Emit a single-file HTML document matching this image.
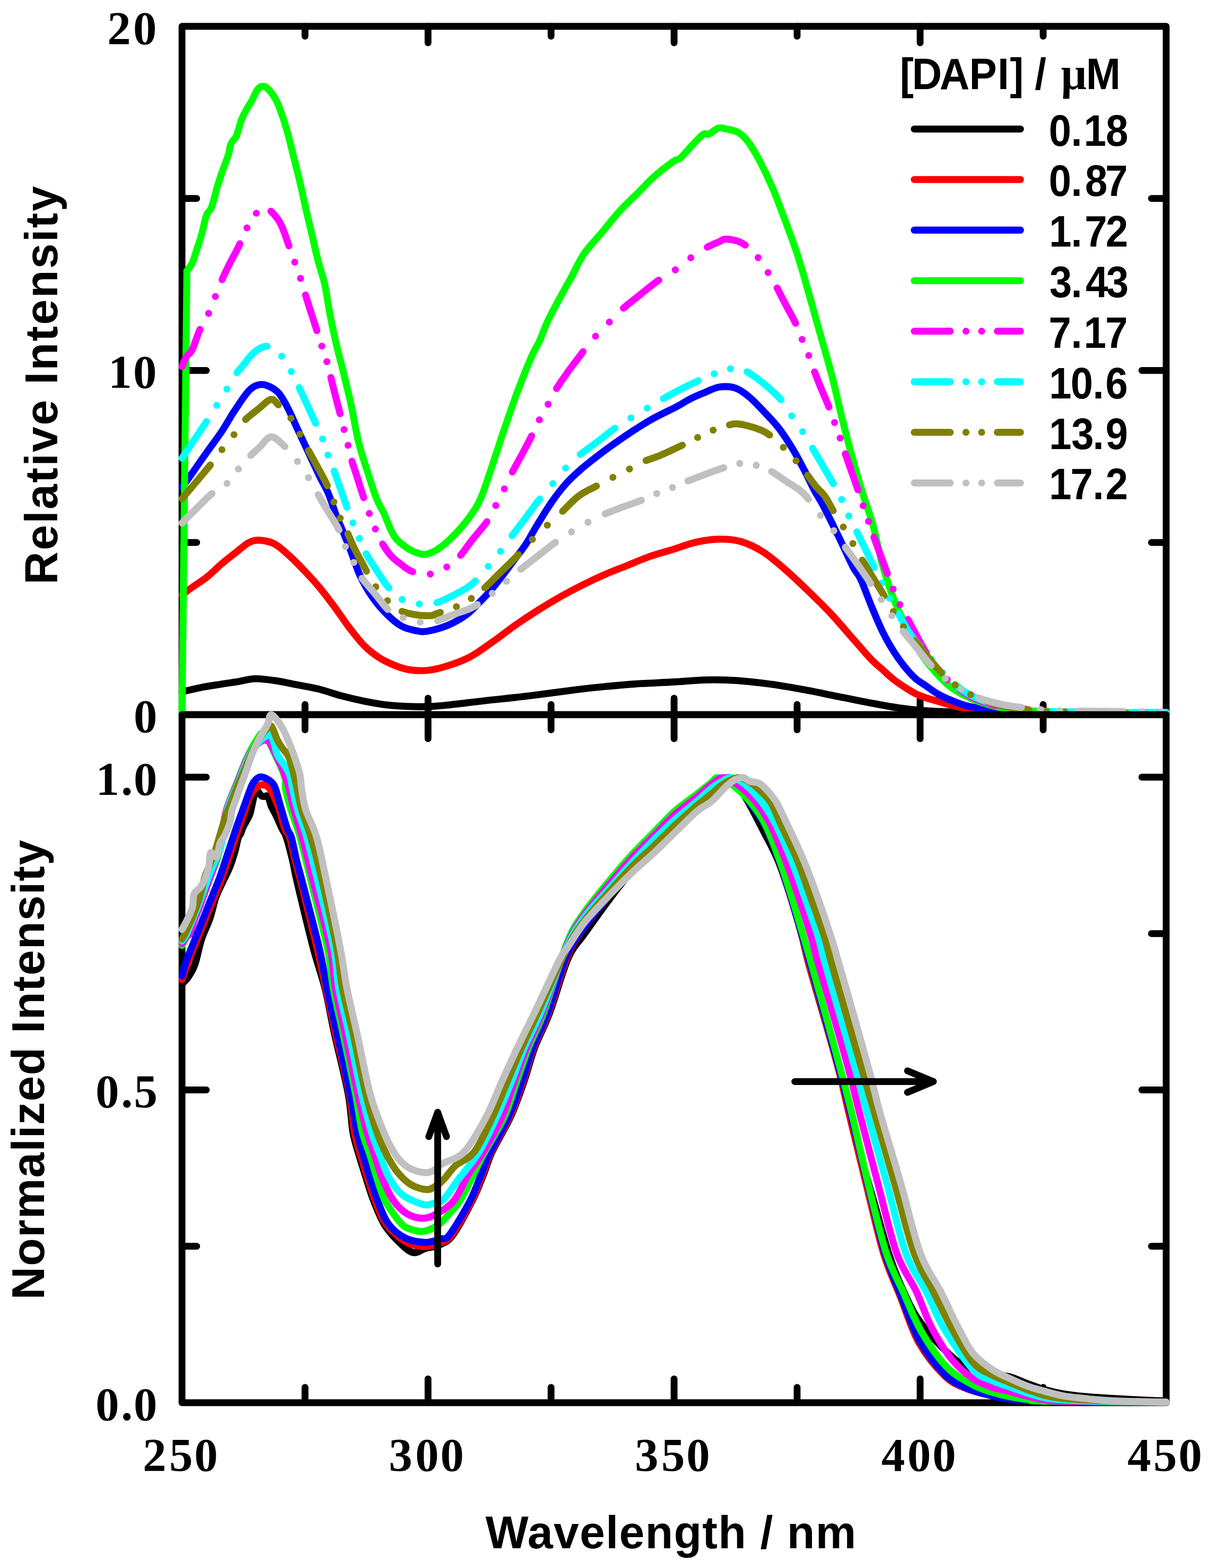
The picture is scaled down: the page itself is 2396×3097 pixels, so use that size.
<!DOCTYPE html>
<html><head><meta charset="utf-8"><title>DAPI fluorescence excitation spectra</title>
<style>html,body{margin:0;padding:0;background:#fff;overflow:hidden;}svg{display:block;}.tl{font-family:"Liberation Serif","Times New Roman",serif;font-weight:bold;font-size:93px;}.ax{font-family:"Liberation Sans",Arial,sans-serif;font-weight:bold;font-size:90px;}.lg{font-family:"Liberation Sans",Arial,sans-serif;font-weight:bold;font-size:86px;}.mu{font-family:"Liberation Serif","Times New Roman",serif;font-weight:bold;}</style></head><body>
<svg xmlns="http://www.w3.org/2000/svg" width="2396" height="3097" viewBox="0 0 2396 3097">
<rect x="0" y="0" width="2396" height="3097" fill="#fff"/>
<path d="M359.5,52 H2303.5 V1411.5 H359.5 Z" fill="none" stroke="#000" stroke-width="13.5" stroke-linejoin="round"/>
<line x1="602.5" y1="52" x2="602.5" y2="71.5" stroke="#000" stroke-width="13.5" stroke-linecap="round"/>
<line x1="845.5" y1="52" x2="845.5" y2="84.5" stroke="#000" stroke-width="13.5" stroke-linecap="round"/>
<line x1="1088.5" y1="52" x2="1088.5" y2="71.5" stroke="#000" stroke-width="13.5" stroke-linecap="round"/>
<line x1="1331.5" y1="52" x2="1331.5" y2="84.5" stroke="#000" stroke-width="13.5" stroke-linecap="round"/>
<line x1="1574.5" y1="52" x2="1574.5" y2="71.5" stroke="#000" stroke-width="13.5" stroke-linecap="round"/>
<line x1="1817.5" y1="52" x2="1817.5" y2="84.5" stroke="#000" stroke-width="13.5" stroke-linecap="round"/>
<line x1="2060.5" y1="52" x2="2060.5" y2="71.5" stroke="#000" stroke-width="13.5" stroke-linecap="round"/>
<line x1="602.5" y1="1411.5" x2="602.5" y2="1391.5" stroke="#000" stroke-width="13.5" stroke-linecap="round"/>
<line x1="845.5" y1="1411.5" x2="845.5" y2="1379" stroke="#000" stroke-width="13.5" stroke-linecap="round"/>
<line x1="1088.5" y1="1411.5" x2="1088.5" y2="1391.5" stroke="#000" stroke-width="13.5" stroke-linecap="round"/>
<line x1="1331.5" y1="1411.5" x2="1331.5" y2="1379" stroke="#000" stroke-width="13.5" stroke-linecap="round"/>
<line x1="1574.5" y1="1411.5" x2="1574.5" y2="1391.5" stroke="#000" stroke-width="13.5" stroke-linecap="round"/>
<line x1="1817.5" y1="1411.5" x2="1817.5" y2="1379" stroke="#000" stroke-width="13.5" stroke-linecap="round"/>
<line x1="2060.5" y1="1411.5" x2="2060.5" y2="1391.5" stroke="#000" stroke-width="13.5" stroke-linecap="round"/>
<line x1="359.5" y1="731.8" x2="407.5" y2="731.8" stroke="#000" stroke-width="13.5" stroke-linecap="round"/>
<line x1="2303.5" y1="731.8" x2="2255.5" y2="731.8" stroke="#000" stroke-width="13.5" stroke-linecap="round"/>
<line x1="359.5" y1="1071.6" x2="388.5" y2="1071.6" stroke="#000" stroke-width="13.5" stroke-linecap="round"/>
<line x1="2303.5" y1="1071.6" x2="2274.5" y2="1071.6" stroke="#000" stroke-width="13.5" stroke-linecap="round"/>
<line x1="359.5" y1="391.9" x2="388.5" y2="391.9" stroke="#000" stroke-width="13.5" stroke-linecap="round"/>
<line x1="2303.5" y1="391.9" x2="2274.5" y2="391.9" stroke="#000" stroke-width="13.5" stroke-linecap="round"/>
<path d="M359.5,1366.5 C365.3,1365.2 381.2,1361 394.4,1358.4 C407.6,1355.8 426.5,1353 438.8,1351 C451.1,1349 457.5,1348.3 468.3,1346.6 C479.1,1344.9 491.5,1341 503.8,1340.6 C516.1,1340.2 528.5,1342.2 542.3,1344.2 C556.1,1346.2 571.9,1349.6 586.7,1352.5 C601.5,1355.4 616.2,1357.7 631,1361.4 C645.8,1365.1 660.6,1370.8 675.4,1374.7 C690.2,1378.6 705,1382 719.8,1385 C734.6,1388 749.4,1390.7 764.2,1392.4 C779,1394.1 795,1394.9 808.6,1395.4 C822.2,1395.9 834.1,1395.9 846,1395.5 C857.9,1395.1 861.3,1394.9 880,1393 C898.7,1391.1 931.3,1387 958,1384 C984.7,1381 1009.7,1378.7 1040,1375 C1070.3,1371.3 1114.2,1365.2 1140,1362 C1165.8,1358.8 1176,1357.8 1195,1356 C1214,1354.2 1231.5,1352.5 1254,1351 C1276.5,1349.5 1307.5,1348.3 1330,1347 C1352.5,1345.7 1371.9,1343.8 1389.2,1343.1 C1406.5,1342.4 1418.8,1342.6 1433.6,1343.1 C1448.4,1343.6 1460.7,1344.4 1477.9,1346.1 C1495.2,1347.8 1517.4,1350.5 1537.1,1353.5 C1556.8,1356.5 1576.6,1360.1 1596.3,1363.8 C1616,1367.5 1635.7,1371.8 1655.4,1375.7 C1675.1,1379.7 1694.9,1383.8 1714.6,1387.5 C1734.3,1391.2 1754.6,1395.2 1773.8,1397.9 C1793,1400.7 1809,1402.5 1830,1404 C1851,1405.5 1871.7,1406.2 1900,1407 C1928.3,1407.8 1932.8,1408.5 2000,1409 C2067.2,1409.5 2252.9,1409.8 2303.5,1410" fill="none" stroke="#000000" stroke-width="13.8" stroke-linecap="round" stroke-linejoin="round"/>
<path d="M359.5,1175 C362.9,1172.5 371.3,1165.9 379.6,1160 C387.9,1154.1 399.3,1147.4 409.2,1139.5 C419.1,1131.6 428.9,1121.2 438.8,1112.8 C448.7,1104.4 459.4,1096.1 468.3,1089.2 C477.2,1082.3 484.6,1075.1 492,1071.4 C499.4,1067.7 504.3,1066.5 512.7,1067 C521.1,1067.5 532.4,1069.2 542.3,1074.4 C552.2,1079.6 562,1089.1 571.9,1098 C581.8,1106.9 591.6,1117.2 601.5,1127.6 C611.4,1138 621.1,1148.4 631,1160.2 C640.9,1172 650.8,1185.3 660.7,1198.6 C670.6,1211.9 680.4,1227.2 690.2,1240 C700.1,1252.8 709.9,1265.7 719.8,1275.6 C729.7,1285.5 739.5,1292.8 749.4,1299.2 C759.3,1305.6 769.1,1310 779,1314 C788.9,1318 797.6,1321.2 808.6,1322.9 C819.6,1324.6 832.4,1325.3 845,1324 C857.6,1322.7 870.4,1319.5 884.4,1315 C898.4,1310.5 914,1305.2 928.8,1297.3 C943.6,1289.4 958.3,1278.1 973.1,1267.7 C987.9,1257.3 1002.7,1245.4 1017.5,1235.1 C1032.3,1224.8 1047.1,1215 1061.9,1205.6 C1076.7,1196.2 1091.5,1187.3 1106.3,1178.9 C1121.1,1170.5 1135.9,1162.7 1150.7,1155.3 C1165.5,1147.9 1180.2,1141 1195,1134.6 C1209.8,1128.2 1224.6,1122.7 1239.4,1116.8 C1254.2,1110.9 1268.7,1104.3 1283.8,1099 C1298.9,1093.7 1314.9,1089.7 1330,1085 C1345.1,1080.3 1359.6,1074.3 1374.4,1071 C1389.2,1067.7 1404,1065.2 1418.8,1065 C1433.6,1064.8 1448.3,1065.3 1463.1,1069.5 C1477.9,1073.7 1492.7,1080.8 1507.5,1090.2 C1522.3,1099.6 1537.1,1112.9 1551.9,1125.7 C1566.7,1138.5 1581.5,1152.8 1596.3,1167.1 C1611.1,1181.4 1625.9,1195.7 1640.7,1211.5 C1655.5,1227.3 1671.5,1246.5 1685,1261.8 C1698.5,1277 1711.8,1292.9 1721.5,1303 C1731.2,1313.1 1735.8,1315.8 1743,1322.3 C1750.2,1328.8 1757.4,1336 1764.6,1341.7 C1771.8,1347.4 1778.8,1352.1 1786,1356.7 C1793.2,1361.3 1800.4,1366 1807.6,1369.6 C1814.8,1373.2 1821.8,1375.7 1829,1378.2 C1836.2,1380.7 1843.4,1382.5 1850.6,1384.7 C1857.8,1386.9 1865.2,1389.3 1872.2,1391.2 C1879.2,1393.1 1883.8,1394.6 1892.3,1396.2 C1900.8,1397.8 1911.7,1399.5 1923,1400.8 C1934.3,1402.1 1947.2,1403.1 1960,1404 C1972.8,1404.9 1976.7,1405.3 2000,1406 C2023.3,1406.7 2049.4,1407.5 2100,1408 C2150.6,1408.5 2269.6,1408.8 2303.5,1409" fill="none" stroke="#ff0000" stroke-width="13.8" stroke-linecap="round" stroke-linejoin="round"/>
<path d="M359.5,962 C361.9,958.8 365.4,954.6 373.7,943 C381.9,931.4 398.1,907.9 409,892.6 C419.9,877.3 429.9,864.3 438.8,851 C447.7,837.7 453.5,826 462.4,812.7 C471.3,799.4 483.4,780.2 492,771.3 C500.6,762.4 507.3,760.7 514.2,759.5 C521.1,758.3 527.2,761 533.4,764 C539.6,767 545.3,770.1 551.2,777.2 C557.1,784.3 563.1,795.4 569,806.8 C574.9,818.1 580.3,831.5 586.7,845.3 C593.1,859.1 600,873.8 607.4,889.6 C614.8,905.4 624.1,925.7 631,940 C637.9,954.3 643.4,962.6 648.8,975.4 C654.2,988.2 659.2,1005.3 663.6,1016.9 C668,1028.5 670.5,1033 675.4,1045 C680.3,1057 687.3,1073.8 693.2,1089 C699.1,1104.2 704.1,1121.7 711,1136.5 C717.9,1151.3 725.7,1165.2 734.6,1178 C743.5,1190.8 754.3,1203.6 764.2,1213.4 C774.1,1223.2 783.9,1231.6 793.8,1237 C803.7,1242.4 814.9,1244.4 823.4,1246 C831.9,1247.6 834.8,1248.3 845,1246.5 C855.2,1244.7 871.7,1240.4 884.4,1235.1 C897.1,1229.8 911,1221.7 921,1214.5 C931,1207.3 936.8,1199.9 944.7,1192 C952.6,1184.1 960.4,1176.3 968.3,1167.2 C976.2,1158.1 984.1,1147.8 992,1137.6 C999.9,1127.4 1007.8,1116.6 1015.7,1106 C1023.6,1095.4 1032,1085 1039.3,1074 C1046.5,1063 1051,1053.5 1059.2,1040 C1067.5,1026.5 1079,1007.2 1088.8,993 C1098.6,978.8 1108.4,966.1 1118.3,955 C1128.2,943.9 1138.1,935.2 1148,926.5 C1157.9,917.8 1167.7,910.4 1177.5,902.8 C1187.3,895.2 1197.2,887.8 1207.1,880.7 C1217,873.6 1228.3,865.7 1236.7,860 C1245.1,854.3 1248.2,852.1 1257.5,846.3 C1266.8,840.5 1279.4,832.4 1292.3,825.4 C1305.2,818.4 1322.9,810.4 1335,804 C1347.1,797.6 1355.2,792 1364.8,787.2 C1374.4,782.4 1383.3,778.8 1392.6,775 C1401.9,771.2 1410.6,766 1420.5,764.5 C1430.4,763 1442,763.1 1451.8,766.3 C1461.6,769.5 1469.8,775.6 1479.6,783.7 C1489.4,791.8 1501,804.6 1510.9,815 C1520.8,825.4 1529.5,834.1 1538.8,846.3 C1548.1,858.5 1558.5,874.8 1566.6,888.1 C1574.7,901.4 1580.5,913 1587.5,926.3 C1594.5,939.6 1602,956.1 1608.4,968.1 C1614.8,980.1 1618.1,983.6 1625.9,998.5 C1633.7,1013.4 1645.6,1037.4 1655.4,1057.6 C1665.2,1077.8 1677.6,1105.4 1685,1119.8 C1692.4,1134.2 1693.9,1130.8 1700,1143.7 C1706.1,1156.7 1714.3,1180.3 1721.5,1197.5 C1728.7,1214.7 1735.8,1232.3 1743,1247 C1750.2,1261.7 1757.4,1274.2 1764.6,1285.7 C1771.8,1297.2 1778.8,1306.8 1786,1315.8 C1793.2,1324.8 1800.4,1333 1807.6,1339.5 C1814.8,1346 1821.8,1349.6 1829,1354.6 C1836.2,1359.6 1843.4,1365.3 1850.6,1369.6 C1857.8,1373.9 1865,1377.2 1872.2,1380.4 C1879.4,1383.6 1886.5,1386.5 1893.7,1389 C1900.9,1391.5 1905.2,1393.5 1915.2,1395.5 C1925.2,1397.5 1939.7,1399.4 1953.8,1401 C1967.9,1402.6 1975.6,1403.8 2000,1405 C2024.4,1406.2 2049.4,1407.3 2100,1408 C2150.6,1408.7 2269.6,1408.8 2303.5,1409" fill="none" stroke="#0000ff" stroke-width="13.8" stroke-linecap="round" stroke-linejoin="round"/>
<path d="M359.5,1411.5 L369.2,535" fill="none" stroke="#00ff00" stroke-width="13.8" stroke-linecap="round"/>
<path d="M369.2,535 C370.9,532.5 376.4,526.9 379.6,520 C382.8,513.1 385.3,503.3 388.5,493.5 C391.7,483.7 395.6,472.4 398.8,461 C402,449.6 404.5,434.1 407.7,425.4 C410.9,416.7 414.3,418.9 418,409 C421.7,399.1 426.5,377.6 430,366 C433.5,354.4 435.4,349.4 438.8,339.6 C442.2,329.8 447.7,316.4 450.6,307 C453.6,297.6 453.8,289.8 456.5,283.4 C459.2,277 463.4,276.5 466.9,268.6 C470.3,260.7 474,244.4 477.2,236 C480.4,227.6 482.5,224.4 486,218 C489.5,211.6 494.5,203.9 498,197.6 C501.5,191.3 503.9,184.4 506.8,180 C509.8,175.6 512.2,172 515.7,171 C519.2,170 522.6,169.6 527.5,174 C532.4,178.4 540.4,188.8 545.3,197.6 C550.2,206.4 553,215.7 557,227 C561,238.3 565,251.4 569,265.7 C573,280 576.9,297.3 580.8,313 C584.7,328.7 588.7,343.2 592.6,360 C596.5,376.8 600.5,396.3 604.4,413.6 C608.3,430.9 612.4,447.3 616.3,464 C620.2,480.7 623.8,497.8 628,514 C632.2,530.2 637.4,543.7 641.4,561.5 C645.4,579.3 648.1,601.5 651.8,620.7 C655.5,640 659.7,659.8 663.6,677 C667.5,694.2 670.5,703.8 675.4,724 C680.3,744.2 687.8,773.4 693.2,798 C698.6,822.6 702.6,849.7 708,871.9 C713.4,894.1 719.8,912.3 725.7,931 C731.6,949.7 738.1,970.5 743.5,984.3 C748.9,998.1 752.4,1001.4 758.3,1013.9 C764.2,1026.5 771.1,1048 779,1059.6 C786.9,1071.2 797.2,1077.6 805.6,1083.3 C814,1089 822.7,1091.8 829.3,1093.6 C835.9,1095.4 838.3,1096 845,1094 C851.7,1092 860.6,1087.8 869.6,1081.3 C878.6,1074.8 889.3,1065 899.2,1054.7 C909.1,1044.4 920.1,1031.7 928.8,1019.2 C937.5,1006.8 942.9,1000.1 951.3,980 C959.7,959.9 971.7,920.8 979.2,898.5 C986.8,876.2 989.6,866.6 996.6,846.3 C1003.6,826 1012.3,799.9 1021,776.7 C1029.7,753.5 1041.3,724.5 1048.8,707.1 C1056.3,689.7 1060.4,685 1066.2,672.3 C1072,659.5 1076.1,646.2 1083.6,630.6 C1091.1,615 1103.9,592.3 1111.4,578.4 C1118.9,564.5 1121.8,559.9 1128.8,547.1 C1135.8,534.3 1143.3,516.3 1153.2,501.8 C1163.1,487.3 1176.4,474 1188,460.1 C1199.6,446.2 1211.1,431.1 1222.7,418.3 C1234.3,405.5 1245.9,395.1 1257.5,383.5 C1269.1,371.9 1280.2,359.4 1292.3,348.7 C1304.4,337.9 1321.4,325.1 1330,319 C1338.6,312.9 1338.1,317.1 1343.9,312.2 C1349.7,307.3 1357.2,297.4 1364.8,289.6 C1372.3,281.8 1383.4,269.3 1389.2,265.2 C1395,261.1 1394.7,267.2 1399.6,265.2 C1404.5,263.2 1412.9,254.8 1418.7,253.1 C1424.5,251.4 1427.7,253.4 1434.4,254.8 C1441.1,256.2 1451.2,257.2 1458.7,261.8 C1466.2,266.4 1472,272.2 1479.6,282.6 C1487.1,293 1495.9,308.7 1504,324.4 C1512.1,340.1 1521.3,360.4 1528.3,376.6 C1535.2,392.8 1538.2,401.5 1545.7,421.8 C1553.2,442.1 1565.5,474 1573.6,498.4 C1581.7,522.8 1586.9,541.9 1594.4,568 C1601.9,594.1 1610.7,626 1618.8,655 C1626.9,684 1635.7,713 1643.2,742 C1650.7,771 1657,801.1 1664,828.9 C1671,856.7 1677.9,883.7 1684.9,908.9 C1691.9,934.1 1699.4,959.1 1705.8,980 C1712.2,1000.9 1717.3,1011.5 1723.5,1034 C1729.7,1056.5 1736.4,1091.2 1743,1115 C1749.6,1138.8 1755.8,1157.9 1763,1177 C1770.2,1196.1 1778.6,1213.8 1786,1229.8 C1793.4,1245.8 1800.4,1260.3 1807.6,1272.8 C1814.8,1285.3 1821.8,1295.3 1829,1305 C1836.2,1314.7 1843.4,1323 1850.6,1330.9 C1857.8,1338.8 1865,1346.3 1872.2,1352.4 C1879.4,1358.5 1886.5,1363.2 1893.7,1367.5 C1900.9,1371.8 1908,1375 1915.2,1378.2 C1922.4,1381.4 1927.7,1383.8 1936.7,1386.8 C1945.7,1389.8 1958.5,1393.9 1969,1396.2 C1979.5,1398.5 1986.5,1399.3 2000,1400.8 C2013.5,1402.3 2033.3,1404 2050,1405 C2066.7,1406 2075,1406.5 2100,1407 C2125,1407.5 2166.1,1407.8 2200,1408 C2233.9,1408.2 2286.2,1408 2303.5,1408" fill="none" stroke="#00ff00" stroke-width="13.8" stroke-linecap="round" stroke-linejoin="round"/>
<path d="M359.5,724 L359.7,723.6 L359.9,723.1 L360.1,722.5 L360.4,721.9 L360.7,721.2 L360.9,720.5 L361.3,719.7 L361.6,718.9 L361.9,718.1 L362.3,717.2 L362.6,716.3 L363,715.4 L363.4,714.5 L363.8,713.6 L364.2,712.7 L364.6,711.7 L365,710.8 L365.4,709.9 L365.9,709 L366.3,708.2 L366.7,707.3 L367.1,706.5 L367.6,705.7 L368,705 L368.4,704.3 L368.9,703.7 L369.3,703.1 L369.8,702.5 L370.2,702 L370.7,701.5 L371.2,701 L371.7,700.5 L372.2,700 L372.7,699.6 L373.2,699.1 L373.7,698.6 L374.2,698.1 L374.7,697.6 L375.2,697.1 L375.7,696.5 L376.2,695.9 L376.8,695.2 L377.3,694.5 L377.8,693.7 L378.4,692.9 L378.9,692 L379.5,691 L380,690 L380.5,688.9 L381.1,687.7 L381.6,686.4 L382.2,685 L382.7,683.6 L383.3,682.2 L383.9,680.6 L384.4,679.1 L385,677.5 L385.6,675.8 L386.1,674.2 L386.7,672.5 L387.3,670.8 L387.9,669.1 L388.5,667.4 L389.1,665.7 L389.7,664 L390.3,662.3 L390.9,660.7 L391.5,659.1 L392.1,657.5 L392.7,655.9 L393.4,654.4 L394,653 L394.6,651.6 L395.1,650.6 M412,619 h0.01 M425.4,585.7 h0.01 M438.6,552.3 L439.1,551.2 L439.7,549.7 L440.4,548.2 L441.1,546.6 L441.9,545.1 L442.6,543.5 L443.3,542 L444.1,540.4 L444.8,538.9 L445.5,537.3 L446.3,535.7 L447,534.2 L447.8,532.6 L448.5,531.1 L449.3,529.6 L450,528 L450.8,526.5 L451.5,525 L452.3,523.5 L453,522 L453.7,520.5 L454.5,519 L455.2,517.6 L456,516.1 L456.8,514.6 L457.6,513.1 L458.4,511.7 L459.1,510.2 L459.9,508.7 L460.7,507.3 L461.5,505.8 L462.3,504.4 L463.1,502.9 L463.8,501.5 L464.6,500.1 L465.4,498.6 L466.1,497.2 L466.9,495.8 L467.6,494.4 L468.3,493 L469,491.7 L469.7,490.3 L470.4,488.9 L471,487.6 L471.6,486.3 L472.2,485 L472.8,483.7 L473.4,482.4 L473.7,481.5 M487.8,450.1 h0.01 M506.3,421.1 h0.01 M535,417.1 L535.2,417.3 L536,418.1 L536.8,418.9 L537.6,419.7 L538.4,420.5 L539.2,421.4 L540,422.2 L540.8,423.1 L541.5,423.9 L542.3,424.8 L543,425.6 L543.7,426.4 L544.4,427.2 L545,428 L545.6,428.8 L546.2,429.5 L546.8,430.2 L547.3,431 L547.9,431.7 L548.4,432.4 L548.9,433.1 L549.4,433.8 L549.9,434.6 L550.4,435.3 L550.8,436 L551.3,436.8 L551.7,437.5 L552.2,438.3 L552.7,439.2 L553.1,440 L553.6,440.9 L554,441.8 L554.5,442.7 L555,443.7 L555.5,444.7 L556,445.7 L556.5,446.8 L557,448 L557.5,449.2 L558.1,450.5 L558.6,451.8 L559.2,453.2 L559.8,454.7 L560.3,456.2 L560.9,457.7 L561.5,459.2 L562.1,460.8 L562.6,462.4 L563.2,464.1 L563.8,465.7 L564.4,467.4 L565,469 L565.5,470.7 L566.1,472.3 L566.7,474 L567.2,475.6 L567.8,477.2 L568.3,478.7 L568.9,480.3 L569.4,481.7 L569.9,483.2 L570.4,484.6 L570.8,485.6 M582.2,517.8 h0.01 M593.6,549.9 h0.01 M603.5,582.6 L603.8,583.3 L604.2,584.8 L604.7,586.4 L605.2,587.9 L605.6,589.4 L606.1,591 L606.6,592.6 L607.1,594.1 L607.6,595.7 L608.1,597.3 L608.6,598.9 L609.1,600.4 L609.5,602 L610,603.6 L610.5,605.2 L611,606.8 L611.5,608.3 L612,609.9 L612.5,611.5 L613,613 L613.5,614.5 L614,616.1 L614.5,617.7 L615,619.3 L615.5,620.9 L616,622.4 L616.6,624 L617.1,625.6 L617.6,627.2 L618.1,628.8 L618.6,630.4 L619.2,632 L619.7,633.6 L620.2,635.2 L620.7,636.7 L621.2,638.3 L621.7,639.8 L622.2,641.3 L622.7,642.8 L623.2,644.3 L623.6,645.8 L624.1,647.2 L624.6,648.6 L625,650 L625.4,651.3 L625.9,652.7 L625.9,653 M635.7,683.6 h0.01 M645.6,714.3 h0.01 M653.5,745.5 L653.6,746 L654,747.5 L654.3,749 L654.7,750.5 L655.1,752.1 L655.5,753.7 L655.9,755.2 L656.2,756.8 L656.6,758.4 L657,760 L657.4,761.6 L657.8,763.2 L658.2,764.8 L658.6,766.4 L659,768 L659.4,769.6 L659.8,771.2 L660.2,772.8 L660.6,774.4 L661,776 L661.4,777.6 L661.8,779.2 L662.2,780.8 L662.7,782.4 L663.1,784 L663.5,785.7 L663.9,787.3 L664.4,789 L664.8,790.6 L665.2,792.3 L665.7,793.9 L666.1,795.6 L666.5,797.2 L667,798.8 L667.4,800.5 L667.8,802.1 L668.2,803.7 L668.7,805.2 L669.1,806.8 L669.5,808.3 L669.9,809.8 L670.3,811.3 L670.6,812.8 L671,814.2 L671.4,815.6 L671.7,817 L671.8,817.2 M679.6,848.4 h0.01 M687.5,879.7 h0.01 M695.2,911 L695.3,911.5 L695.8,913 L696.3,914.5 L696.8,916 L697.3,917.6 L697.8,919.1 L698.3,920.7 L698.8,922.2 L699.3,923.8 L699.8,925.3 L700.3,926.9 L700.9,928.5 L701.4,930.1 L701.9,931.6 L702.4,933.2 L703,934.8 L703.5,936.3 L704,937.9 L704.5,939.5 L705,941 L705.5,942.5 L706,944.1 L706.5,945.7 L707,947.3 L707.5,948.9 L708,950.5 L708.5,952.1 L709,953.7 L709.5,955.3 L710,956.9 L710.5,958.5 L711,960.1 L711.5,961.7 L712.1,963.3 L712.6,964.9 L713,966.5 L713.5,968 L714,969.6 L714.5,971.1 L715,972.6 L715.5,974.1 L716,975.6 L716.4,977 L716.9,978.4 L717.4,979.8 L717.8,981.1 L718.3,982.5 L718.4,983 M729.4,1014.1 h0.01 M741.4,1044.8 h0.01 M755.8,1074.5 L756.4,1075.5 L757.2,1076.7 L757.9,1077.9 L758.6,1079 L759.3,1080.2 L760,1081.3 L760.8,1082.5 L761.5,1083.6 L762.3,1084.7 L763,1085.8 L763.8,1086.9 L764.6,1088 L765.3,1089 L766.1,1090.1 L766.9,1091.1 L767.7,1092.1 L768.4,1093.1 L769.2,1094.1 L770,1095 L770.8,1095.9 L771.6,1096.8 L772.4,1097.7 L773.1,1098.5 L773.9,1099.3 L774.7,1100.1 L775.5,1100.9 L776.3,1101.7 L777.1,1102.5 L777.9,1103.2 L778.7,1103.9 L779.6,1104.7 L780.4,1105.4 L781.2,1106.1 L782.1,1106.8 L782.9,1107.5 L783.8,1108.2 L784.6,1108.8 L785.5,1109.5 L786.4,1110.2 L787.3,1110.9 L788.2,1111.6 L789.1,1112.3 L790,1113 L790.9,1113.7 L791.9,1114.4 L792.8,1115.2 L793.8,1115.9 L794.7,1116.6 L795.7,1117.4 L796.7,1118.1 L797.6,1118.9 L798.6,1119.6 L799.6,1120.3 L800.6,1121.1 L801.6,1121.8 L802.7,1122.5 L803.7,1123.2 L804.7,1123.8 L805.8,1124.5 L806.8,1125.2 L807.9,1125.8 L809,1126.4 L810.1,1127 L811.1,1127.5 L812.3,1128 L813.4,1128.5 L814.5,1129 L815,1129.2 M849.9,1133.8 h0.01 M882.5,1119.8 h0.01 M909.7,1096.9 L909.8,1096.8 L911,1095.4 L912.1,1093.9 L913.3,1092.5 L914.5,1091 L915.6,1089.5 L916.8,1087.9 L918,1086.4 L919.1,1084.8 L920.3,1083.2 L921.4,1081.6 L922.6,1080 L923.7,1078.4 L924.9,1076.8 L926,1075.3 L927.2,1073.7 L928.3,1072.1 L929.5,1070.5 L930.7,1069 L931.8,1067.5 L933,1066 L934.2,1064.5 L935.4,1063 L936.6,1061.5 L937.8,1060 L939.1,1058.6 L940.3,1057.1 L941.6,1055.6 L942.9,1054.1 L944.1,1052.6 L945.4,1051.1 L946.6,1049.6 L947.9,1048.1 L949.1,1046.6 L950.3,1045.1 L951.6,1043.7 L952.7,1042.2 L953.9,1040.8 L955.1,1039.3 L956.2,1037.9 L957.3,1036.5 L958.3,1035.1 L959.4,1033.7 L960.4,1032.4 L961.3,1031 L961.6,1030.5 M979.3,998.3 h0.01 M996.3,965.6 h0.01 M1012,932.4 L1012.5,931.4 L1013.3,929.9 L1014.1,928.5 L1014.9,927 L1015.7,925.5 L1016.5,924 L1017.3,922.5 L1018.1,921 L1018.9,919.5 L1019.8,918 L1020.6,916.5 L1021.4,915 L1022.3,913.5 L1023.1,912 L1023.9,910.5 L1024.8,909 L1025.6,907.5 L1026.4,906 L1027.2,904.5 L1028,903 L1028.8,901.5 L1029.6,900 L1030.4,898.5 L1031.2,897 L1032.1,895.5 L1032.9,893.9 L1033.7,892.4 L1034.5,890.9 L1035.3,889.4 L1036.2,887.8 L1037,886.3 L1037.8,884.8 L1038.6,883.3 L1039.4,881.8 L1040.2,880.3 L1041,878.8 L1041.8,877.3 L1042.6,875.8 L1043.4,874.3 L1044.1,872.9 L1044.9,871.4 L1045.6,870 L1046.3,868.6 L1047,867.2 L1047.7,865.8 L1048.3,864.5 L1049,863.1 L1049.6,861.8 L1050,860.9 M1065.4,829.2 h0.01 M1082.7,798.5 h0.01 M1099.3,767.3 L1100.3,765.8 L1101.2,764.3 L1102.2,762.8 L1103.2,761.3 L1104.2,759.8 L1105.2,758.3 L1106.2,756.8 L1107.3,755.2 L1108.3,753.7 L1109.4,752.2 L1110.4,750.6 L1111.5,749.1 L1112.6,747.6 L1113.6,746 L1114.7,744.5 L1115.8,743 L1116.8,741.5 L1117.9,740 L1118.9,738.5 L1120,737 L1121.1,735.5 L1122.1,734 L1123.2,732.5 L1124.3,731 L1125.4,729.5 L1126.5,728 L1127.6,726.5 L1128.7,725 L1129.8,723.5 L1131,722 L1132.1,720.5 L1133.2,719 L1134.3,717.6 L1135.4,716.1 L1136.6,714.6 L1137.7,713.2 L1138.8,711.7 L1139.9,710.3 L1140.9,708.8 L1142,707.4 L1143.1,706 L1144.1,704.6 L1145.2,703.3 L1146.2,701.9 L1147.2,700.6 L1148.2,699.2 L1149.1,697.9 L1150.1,696.7 L1151,695.4 L1151.7,694.5 M1176.3,664.1 h0.01 M1203.6,636.2 h0.01 M1231.4,608.6 L1231.7,608.4 L1233.1,607.2 L1234.6,606 L1236,604.7 L1237.5,603.5 L1239,602.3 L1240.5,601.1 L1242,599.9 L1243.5,598.6 L1245,597.4 L1246.6,596.2 L1248.1,595 L1249.7,593.8 L1251.2,592.5 L1252.8,591.3 L1254.3,590.1 L1255.9,588.9 L1257.4,587.7 L1258.9,586.4 L1260.5,585.2 L1262,584 L1263.5,582.8 L1265.1,581.5 L1266.6,580.3 L1268.2,579 L1269.8,577.7 L1271.4,576.4 L1273,575.1 L1274.6,573.8 L1276.2,572.5 L1277.8,571.2 L1279.4,569.9 L1281,568.7 L1282.6,567.4 L1284.2,566.1 L1285.8,564.9 L1287.4,563.6 L1288.9,562.4 L1290.5,561.2 L1292,560.1 L1293.5,558.9 L1295,557.8 L1296.5,556.7 L1297.9,555.7 L1299.3,554.7 L1300.7,553.7 L1301.1,553.5 M1333.9,533 h0.01 M1364.5,509.2 h0.01 M1397,488.1 L1397.4,487.9 L1398.7,487.2 L1400.1,486.6 L1401.4,485.9 L1402.8,485.3 L1404.1,484.7 L1405.4,484.1 L1406.7,483.5 L1408,482.9 L1409.3,482.3 L1410.6,481.8 L1411.8,481.2 L1413,480.7 L1414.2,480.2 L1415.4,479.7 L1416.5,479.2 L1417.6,478.8 L1418.6,478.3 L1419.6,477.9 L1420.5,477.5 L1421.4,477.1 L1422.2,476.7 L1422.9,476.4 L1423.5,476 L1424.2,475.6 L1424.7,475.3 L1425.2,475 L1425.7,474.7 L1426.2,474.4 L1426.6,474.1 L1427,473.8 L1427.5,473.6 L1427.9,473.4 L1428.3,473.2 L1428.7,473 L1429.2,472.8 L1429.7,472.7 L1430.2,472.5 L1430.7,472.4 L1431.4,472.4 L1432,472.3 L1432.7,472.3 L1433.5,472.3 L1434.4,472.3 L1435.3,472.3 L1436.3,472.4 L1437.4,472.5 L1438.5,472.6 L1439.6,472.7 L1440.8,472.8 L1442,473 L1443.2,473.1 L1444.5,473.3 L1445.7,473.6 L1447.1,473.8 L1448.4,474.1 L1449.7,474.3 L1451,474.6 L1452.4,475 L1453.7,475.3 L1455.1,475.7 L1456.4,476.1 L1457.7,476.6 L1459,477 L1460.3,477.5 L1461.6,478.1 L1462.8,478.6 L1464,479.2 L1465.2,479.8 L1466.4,480.5 L1467.5,481.2 L1468.7,481.9 L1469.9,482.6 L1471.1,483.4 L1472.2,484.2 M1497.5,508.8 h0.01 M1517.2,538.3 h0.01 M1535.1,568.8 L1535.6,569.7 L1536.3,571.1 L1537.1,572.5 L1537.8,574 L1538.6,575.5 L1539.3,576.9 L1540,578.4 L1540.8,579.9 L1541.5,581.4 L1542.3,582.9 L1543,584.4 L1543.8,585.9 L1544.6,587.4 L1545.3,588.9 L1546.1,590.4 L1546.9,591.9 L1547.6,593.4 L1548.4,595 L1549.2,596.5 L1550,598 L1550.8,599.5 L1551.6,601.1 L1552.5,602.7 L1553.3,604.3 L1554.2,605.9 L1555.1,607.5 L1556,609.1 L1556.9,610.7 L1557.7,612.4 L1558.6,614 L1559.5,615.6 L1560.4,617.3 L1561.3,618.9 L1562.2,620.5 L1563.1,622.1 L1563.9,623.7 L1564.8,625.3 L1565.6,626.9 L1566.4,628.4 L1567.2,629.9 L1568,631.5 L1568.7,632.9 L1569.4,634.4 L1570.1,635.8 L1570.8,637.2 L1571.4,638.5 L1571.4,638.6 M1584.4,670.4 h0.01 M1597.5,702.1 h0.01 M1609,734.5 L1609.4,735.4 L1609.9,736.9 L1610.5,738.4 L1611.1,739.9 L1611.7,741.5 L1612.3,743.1 L1612.9,744.6 L1613.5,746.2 L1614.2,747.8 L1614.8,749.4 L1615.4,750.9 L1616,752.5 L1616.6,754.1 L1617.3,755.7 L1617.9,757.3 L1618.5,758.8 L1619.1,760.4 L1619.8,761.9 L1620.4,763.5 L1621,765 L1621.6,766.5 L1622.3,768.1 L1622.9,769.6 L1623.5,771.2 L1624.2,772.7 L1624.9,774.3 L1625.5,775.8 L1626.2,777.4 L1626.9,778.9 L1627.5,780.5 L1628.2,782 L1628.9,783.6 L1629.5,785.1 L1630.2,786.6 L1630.8,788.2 L1631.5,789.7 L1632.1,791.2 L1632.7,792.6 L1633.3,794.1 L1633.9,795.5 L1634.5,797 L1635.1,798.4 L1635.7,799.7 L1636.2,801.1 L1636.7,802.4 L1637.2,803.7 L1637.3,803.9 M1648.4,834.6 h0.01 M1659.5,865.3 h0.01 M1669.8,896.3 L1670.1,897.3 L1671.1,900.2 L1672.1,903.2 L1673.3,906.4 L1674.4,909.7 L1675.6,913.1 L1676.8,916.5 L1678,920.1 L1679.3,923.6 L1680.5,927.2 L1681.8,930.8 L1683.1,934.4 L1684.3,937.9 L1685.5,941.4 L1686.7,944.7 L1687.8,948 L1689,951.2 L1690,954.2 L1691,957.1 L1691.9,959.8 L1692.8,962.3 L1693.6,964.6 L1694.3,966.7 L1694.6,967.6 M1704.9,998.8 h0.01 M1715.6,1029.9 h0.01 M1726.2,1061.1 L1726.7,1062.5 L1727.8,1065.4 L1728.9,1068.4 L1730.1,1071.6 L1731.3,1074.9 L1732.5,1078.3 L1733.8,1081.7 L1735.1,1085.3 L1736.4,1088.8 L1737.8,1092.4 L1739.1,1096 L1740.4,1099.6 L1741.7,1103.1 L1743,1106.6 L1744.3,1109.9 L1745.5,1113.2 L1746.7,1116.4 L1747.8,1119.4 L1748.9,1122.3 L1749.8,1124.9 L1750.8,1127.4 L1751.6,1129.7 L1752.4,1131.8 L1752.7,1132.6 M1764.2,1163.7 h0.01 M1777.6,1194.1 h0.01 M1793.3,1223.4 L1794.4,1225.3 L1795.9,1228.2 L1797.4,1231.1 L1799.1,1234.2 L1800.8,1237.4 L1802.6,1240.7 L1804.4,1244.1 L1806.2,1247.5 L1808.1,1251 L1810,1254.5 L1811.9,1258.1 L1813.8,1261.6 L1815.7,1265 L1817.6,1268.5 L1819.5,1271.9 L1821.3,1275.1 L1823.1,1278.3 L1824.9,1281.4 L1826.6,1284.4 L1828.2,1287.1 L1829.8,1289.8 L1830.1,1290.2 M1849.2,1317.4 h0.01 M1871.2,1342.3 h0.01 M1897.2,1363 L1897.3,1363 L1898.8,1364.1 L1900.4,1365.2 L1902,1366.2 L1903.7,1367.3 L1905.3,1368.4 L1906.9,1369.4 L1908.6,1370.5 L1910.2,1371.5 L1911.9,1372.5 L1913.5,1373.4 L1915.1,1374.4 L1916.8,1375.3 L1918.4,1376.2 L1920,1377 L1921.6,1377.8 L1923.2,1378.6 L1924.9,1379.4 L1926.5,1380.1 L1928.1,1380.9 L1929.8,1381.6 L1931.4,1382.3 L1933.1,1383 L1934.8,1383.7 L1936.5,1384.3 L1938.1,1385 L1939.8,1385.6 L1941.5,1386.2 L1943.2,1386.8 L1944.9,1387.4 L1946.6,1387.9 L1948.2,1388.5 L1949.9,1389 L1951.6,1389.6 L1953.3,1390.1 L1955,1390.6 L1956.7,1391.1 L1958.3,1391.5 L1960,1392 L1961.7,1392.4 L1963.3,1392.9 L1964.9,1393.3 L1966.5,1393.6 M1999.3,1398.9 h0.01 M2032.3,1402.6 h0.01 M2065.5,1405.3 L2066.8,1405.3 L2068.3,1405.4 L2070,1405.5 L2072,1405.5 L2074.2,1405.6 L2076.7,1405.6 L2079.6,1405.7 L2082.8,1405.8 L2086.4,1405.8 L2090.5,1405.9 L2095,1405.9 L2100,1406 L2105.7,1406.1 L2112.2,1406.1 L2119.5,1406.2 L2127.4,1406.2 L2135.9,1406.3 L2141.7,1406.3 M2174.9,1406.5 h0.01 M2208.2,1406.6 h0.01 M2241.4,1406.8 L2245.1,1406.8 L2254.4,1406.8 L2263.3,1406.8 L2271.8,1406.9 L2279.6,1406.9 L2286.8,1406.9 L2293.2,1407 L2298.8,1407 L2303.5,1407" fill="none" stroke="#ff00ff" stroke-width="13.8" stroke-linecap="round" stroke-linejoin="round"/>
<path d="M359.5,905 L359.9,904.3 L360.5,903.6 L361,902.7 L361.6,901.8 L362.3,900.9 L363,899.8 L363.7,898.7 L364.5,897.6 L365.3,896.3 L366.1,895.1 L367,893.8 L367.9,892.4 L368.8,891.1 L369.7,889.7 L370.7,888.2 L371.7,886.8 L372.7,885.3 L373.6,883.8 L374.6,882.3 L375.6,880.8 L376.6,879.3 L377.6,877.8 L378.6,876.4 L379.6,874.9 L380.6,873.4 L381.6,871.9 L382.7,870.3 L383.7,868.7 L384.8,867.1 L386,865.4 L387.1,863.7 L388.2,862 L389.4,860.3 L390.6,858.5 L391.7,856.8 L392.9,855 L394.1,853.3 L395.3,851.5 L396.4,849.8 L397.6,848 L398.7,846.3 L399.9,844.6 L401,842.9 L402.1,841.3 L403.2,839.6 L404.2,838.1 L405.2,836.5 L406.2,835 L407.2,833.5 L407.7,832.6 M428,800.6 h0.01 M448.2,768.5 h0.01 M468,736.1 L468.1,735.9 L468.8,735.1 L469.5,734.2 L470.2,733.4 L470.8,732.6 L471.5,731.8 L472.2,731.1 L472.8,730.3 L473.5,729.6 L474.2,728.8 L474.8,728.1 L475.5,727.3 L476.1,726.6 L476.8,725.9 L477.4,725.1 L478.1,724.3 L478.7,723.6 L479.4,722.8 L480,722 L480.6,721.2 L481.3,720.4 L481.9,719.6 L482.6,718.7 L483.2,717.9 L483.8,717.1 L484.5,716.2 L485.1,715.4 L485.7,714.6 L486.3,713.7 L486.9,712.9 L487.6,712.1 L488.2,711.3 L488.8,710.5 L489.4,709.7 L490,708.9 L490.7,708.1 L491.3,707.3 L491.9,706.6 L492.5,705.8 L493.1,705.1 L493.8,704.4 L494.4,703.7 L495,703 L495.6,702.3 L496.3,701.7 L496.9,701 L497.5,700.4 L498.1,699.8 L498.8,699.2 L499.4,698.6 L500,698 L500.6,697.4 L501.3,696.8 L501.9,696.2 L502.5,695.7 L503.2,695.1 L503.8,694.6 L504.4,694.1 L505,693.6 L505.7,693.1 L506.3,692.6 L506.9,692.1 L507.5,691.7 L508.1,691.2 L508.8,690.8 L509.4,690.4 L510,690 L510.6,689.6 L511.2,689.2 L511.9,688.8 L512.5,688.5 L513.1,688.1 L513.7,687.8 L514.3,687.4 L514.9,687.1 L515.6,686.8 L516.2,686.5 L516.8,686.2 L517.4,685.9 L518,685.7 L518.6,685.4 L519.2,685.2 L519.8,685 L520.4,684.8 L521,684.6 L521.6,684.5 L522.2,684.3 L522.8,684.2 L523.4,684.1 L524,684.1 L524.6,684 L525.2,684 L525.8,684 L526.3,684 L526.9,684 L527.4,684.1 L527.7,684.1 M556.4,703.6 h0.01 M575.4,733.8 h0.01 M591.2,765.7 L591.6,766.7 L592.3,768.2 L593,769.7 L593.7,771.2 L594.4,772.7 L595.1,774.2 L595.8,775.8 L596.5,777.3 L597.2,778.9 L597.9,780.4 L598.6,782 L599.3,783.5 L600,785.1 L600.7,786.7 L601.4,788.2 L602.2,789.8 L602.9,791.4 L603.6,792.9 L604.3,794.5 L605,796 L605.7,797.5 L606.4,799.1 L607.2,800.7 L607.9,802.3 L608.6,803.9 L609.4,805.5 L610.1,807.1 L610.8,808.7 L611.6,810.3 L612.3,811.9 L613.1,813.6 L613.8,815.2 L614.6,816.8 L615.3,818.4 L616,820 L616.7,821.5 L617.5,823.1 L618.2,824.6 L618.9,826.1 L619.6,827.6 L620.2,829.1 L620.9,830.6 L621.6,832 L622.2,833.4 L622.8,834.8 L623.4,836 M637.1,866.8 h0.01 M647.7,898.8 h0.01 M660,930.2 L660.4,931.3 L661.5,934.2 L662.6,937.2 L663.7,940.4 L664.9,943.8 L666.1,947.2 L667.3,950.7 L668.6,954.2 L669.8,957.8 L671.1,961.5 L672.4,965.1 L673.6,968.7 L674.9,972.2 L676.1,975.7 L677.3,979.1 L678.4,982.4 L679.6,985.6 L680.6,988.7 L681.6,991.5 L682.6,994.2 L683.5,996.7 L684.3,999 L685,1001.1 L685.3,1001.9 M697.1,1032.9 h0.01 M709.7,1063.5 h0.01 M723.1,1093.7 L723.3,1094.1 L724.3,1095.7 L725.3,1097.4 L726.4,1099.1 L727.4,1100.9 L728.5,1102.6 L729.6,1104.4 L730.7,1106.1 L731.8,1107.9 L733,1109.6 L734.1,1111.4 L735.2,1113.1 L736.4,1114.9 L737.5,1116.6 L738.6,1118.3 L739.7,1120 L740.8,1121.7 L741.9,1123.3 L743,1124.9 L744,1126.5 L745,1128 L746,1129.5 L746.9,1131 L747.9,1132.5 L748.8,1133.9 L749.7,1135.4 L750.7,1136.8 L751.6,1138.2 L752.5,1139.7 L753.4,1141 L754.2,1142.4 L755.1,1143.8 L756,1145.1 L756.9,1146.5 L757.8,1147.8 L758.7,1149.1 L759.6,1150.4 L760.5,1151.7 L761.4,1152.9 L762.3,1154.2 L763.3,1155.4 L764.2,1156.6 L765.2,1157.8 L766.2,1159 L767.2,1160.2 L767.9,1161 M794.3,1184 h0.01 M828.2,1192.9 h0.01 M862.9,1190.3 L863.5,1190.1 L865,1189.6 L866.5,1189 L868,1188.5 L869.5,1187.9 L871.1,1187.2 L872.6,1186.6 L874.2,1185.9 L875.8,1185.2 L877.3,1184.5 L878.9,1183.8 L880.5,1183.1 L882.1,1182.4 L883.6,1181.6 L885.2,1180.8 L886.8,1180.1 L888.3,1179.3 L889.9,1178.5 L891.5,1177.8 L893,1177 L894.5,1176.2 L896.1,1175.4 L897.7,1174.7 L899.3,1173.9 L900.9,1173 L902.5,1172.2 L904.1,1171.4 L905.7,1170.5 L907.3,1169.7 L908.9,1168.8 L910.5,1167.9 L912.1,1167 L913.7,1166.1 L915.3,1165.2 L916.9,1164.3 L918.5,1163.4 L920,1162.4 L921.5,1161.4 L923,1160.4 L924.5,1159.4 L926,1158.4 L927.4,1157.4 L928.8,1156.4 L930.2,1155.3 L931.5,1154.2 L932.9,1153.1 L934.2,1152 L935.4,1150.8 L936.7,1149.7 L937.9,1148.5 L939,1147.4 M964.4,1118.7 h0.01 M988.5,1088.9 h0.01 M1011.4,1058.1 L1011.6,1057.8 L1012.7,1056.3 L1013.8,1054.8 L1015,1053.3 L1016.2,1051.8 L1017.3,1050.3 L1018.5,1048.7 L1019.7,1047.2 L1020.9,1045.6 L1022.1,1044.1 L1023.2,1042.5 L1024.4,1040.9 L1025.6,1039.4 L1026.8,1037.8 L1028,1036.2 L1029.2,1034.7 L1030.4,1033.1 L1031.5,1031.6 L1032.7,1030 L1033.9,1028.5 L1035,1027 L1036.1,1025.5 L1037.3,1024 L1038.4,1022.4 L1039.6,1020.9 L1040.7,1019.3 L1041.9,1017.8 L1043,1016.2 L1044.2,1014.7 L1045.3,1013.1 L1046.4,1011.6 L1047.6,1010 L1048.7,1008.5 L1049.8,1006.9 L1051,1005.4 L1052.1,1003.9 L1053.2,1002.4 L1054.3,1000.9 L1055.4,999.4 L1056.5,998 L1057.6,996.5 L1058.7,995.1 L1059.8,993.7 L1060.8,992.3 L1061.9,991 L1062.9,989.7 L1064,988.4 L1065,987.2 L1066,985.9 L1066.3,985.5 M1091.9,955.1 h0.01 M1117.2,924.6 h0.01 M1146.3,897.6 L1146.7,897.3 L1148.2,896.2 L1149.7,895 L1151.2,893.8 L1152.7,892.7 L1154.3,891.5 L1155.9,890.3 L1157.5,889.2 L1159,888 L1160.6,886.8 L1162.2,885.7 L1163.8,884.5 L1165.4,883.3 L1167,882.2 L1168.6,881 L1170.2,879.8 L1171.8,878.7 L1173.4,877.5 L1174.9,876.3 L1176.5,875.2 L1178,874 L1179.5,872.8 L1181.1,871.7 L1182.6,870.5 L1184.1,869.3 L1185.7,868.1 L1187.2,866.9 L1188.8,865.6 L1190.3,864.4 L1191.9,863.2 L1193.4,862 L1194.9,860.8 L1196.5,859.6 L1198,858.4 L1199.5,857.2 L1201,856 L1202.5,854.9 L1204,853.7 L1205.5,852.6 L1206.9,851.5 L1208.4,850.4 L1209.8,849.3 L1211.2,848.3 L1212.6,847.3 L1214,846.3 L1214.7,845.8 M1246.2,825.6 h0.01 M1278.3,806.2 h0.01 M1310.5,787.2 L1311.5,786.6 L1312.9,785.8 L1314.4,785 L1315.8,784.1 L1317.3,783.3 L1318.8,782.5 L1320.2,781.7 L1321.7,780.8 L1323.2,780 L1324.7,779.2 L1326.2,778.3 L1327.7,777.5 L1329.3,776.7 L1330.8,775.9 L1332.3,775 L1333.8,774.2 L1335.4,773.4 L1336.9,772.6 L1338.5,771.8 L1340,771 L1341.6,770.2 L1343.1,769.4 L1344.7,768.6 L1346.4,767.8 L1348,767 L1349.7,766.2 L1351.3,765.3 L1353,764.5 L1354.7,763.7 L1356.4,762.9 L1358,762.1 L1359.7,761.3 L1361.4,760.5 L1363.1,759.7 L1364.7,758.9 L1366.4,758.2 L1368,757.4 L1369.6,756.7 L1371.2,755.9 L1372.7,755.2 L1374.3,754.5 L1375.8,753.8 L1377.3,753.1 L1378.7,752.4 L1379.6,752 M1410.5,738.2 h0.01 M1442.7,728.3 h0.01 M1475.5,734.4 L1476.1,734.7 L1477.5,735.5 L1479,736.3 L1480.4,737.2 L1481.8,738.1 L1483.3,739 L1484.8,739.9 L1486.2,740.9 L1487.7,741.9 L1489.2,742.9 L1490.6,744 L1492.1,745.1 L1493.6,746.1 L1495.1,747.2 L1496.6,748.4 L1498,749.5 L1499.5,750.6 L1501,751.8 L1502.5,752.9 L1504,754.1 L1505.5,755.3 L1507,756.5 L1508.6,757.8 L1510.2,759 L1511.8,760.4 L1513.4,761.7 L1515,763.1 L1516.6,764.4 L1518.2,765.9 L1519.9,767.3 L1521.5,768.7 L1523.1,770.1 L1524.7,771.6 L1526.3,773.1 L1527.9,774.5 L1529.4,776 L1530.9,777.4 L1532.4,778.9 L1533.9,780.3 L1535.3,781.7 L1536.7,783.1 L1538,784.5 L1539.3,785.9 L1540.5,787.2 L1541.7,788.5 L1542.6,789.7 M1563.8,821.3 h0.01 M1585.3,852.7 h0.01 M1604.9,885.3 L1605.7,886.6 L1607.3,889.4 L1609,892.3 L1610.8,895.4 L1612.7,898.5 L1614.6,901.7 L1616.5,905 L1618.5,908.4 L1620.5,911.8 L1622.5,915.2 L1624.5,918.6 L1626.5,922 L1628.4,925.3 L1630.3,928.6 L1632.2,931.9 L1634,935 L1635.8,938 L1637.5,940.9 L1639.1,943.6 L1640.6,946.2 L1641.9,948.5 L1643.2,950.7 L1644.4,952.7 L1645.4,954.5 L1645.9,955.3 M1662.5,986.5 h0.01 M1676.5,1019 h0.01 M1692.6,1050.5 L1693.1,1051.7 L1694.5,1054.5 L1696,1057.4 L1697.5,1060.5 L1699,1063.7 L1700.6,1067 L1702.3,1070.3 L1703.9,1073.7 L1705.6,1077.2 L1707.3,1080.6 L1709,1084.1 L1710.7,1087.5 L1712.3,1090.9 L1714,1094.3 L1715.6,1097.5 L1717.1,1100.7 L1718.6,1103.8 L1720.1,1106.7 L1721.4,1109.5 L1722.7,1112.1 L1723.9,1114.6 L1725,1116.8 L1726,1118.9 L1727,1120.8 L1727,1120.8 M1742.2,1151.3 h0.01 M1757.4,1181.9 h0.01 M1774.2,1211.6 L1774.9,1212.8 L1776,1214.7 L1777.1,1216.8 L1778.3,1218.9 L1779.5,1221 L1780.7,1223.2 L1782,1225.4 L1783.2,1227.6 L1784.5,1229.9 L1785.8,1232.1 L1787.1,1234.4 L1788.4,1236.6 L1789.7,1238.8 L1791,1241 L1792.3,1243.2 L1793.6,1245.3 L1794.9,1247.4 L1796.2,1249.4 L1797.5,1251.3 L1798.8,1253.2 L1800,1255 L1801.2,1256.7 L1802.4,1258.4 L1803.6,1260 L1804.8,1261.5 L1806,1263 L1807.2,1264.4 L1808.3,1265.8 L1809.5,1267.2 L1810.7,1268.5 L1811.8,1269.9 L1813,1271.2 L1814.2,1272.5 L1815.4,1273.8 L1816.6,1275.1 L1817.7,1276.3 M1840,1302.2 h0.01 M1861.6,1328.6 h0.01 M1886.3,1352.1 L1888,1353.5 L1889.8,1354.9 L1891.6,1356.3 L1893.4,1357.6 L1895.2,1358.9 L1897,1360.2 L1898.8,1361.5 L1900.6,1362.7 L1902.4,1363.9 L1904.3,1365.1 L1906.1,1366.3 L1907.9,1367.4 L1909.7,1368.6 L1911.5,1369.7 L1913.4,1370.7 L1915.2,1371.8 L1917,1372.8 L1918.9,1373.8 L1920.8,1374.8 L1922.6,1375.8 L1924.5,1376.7 L1926.4,1377.6 L1928.3,1378.4 L1930.2,1379.3 L1932.1,1380.1 L1934,1380.9 L1935.9,1381.7 L1937.8,1382.4 L1939.7,1383.1 L1941.6,1383.9 L1943.5,1384.5 L1945.4,1385.2 L1947.2,1385.9 L1949.1,1386.5 L1951,1387.1 L1952.8,1387.7 L1954.6,1388.3 L1955.1,1388.4 M1988.2,1396.3 h0.01 M2022.1,1400.6 h0.01 M2056.1,1403.6 L2056.6,1403.6 L2057.8,1403.8 L2058.9,1403.9 L2060,1404.1 L2061,1404.2 L2062,1404.4 L2063.1,1404.5 L2064.2,1404.6 L2065.4,1404.8 L2066.8,1404.9 L2068.3,1405 L2070,1405.1 L2072,1405.2 L2074.2,1405.3 L2076.7,1405.4 L2079.6,1405.5 L2082.8,1405.6 L2086.4,1405.7 L2090.5,1405.8 L2095,1405.9 L2100,1406 L2105.7,1406.1 L2112.2,1406.2 L2119.5,1406.2 L2127.4,1406.3 L2134.3,1406.3 M2168.4,1406.5 h0.01 M2202.5,1406.7 h0.01 M2236.6,1406.8 L2245.1,1406.8 L2254.4,1406.8 L2263.3,1406.9 L2271.8,1406.9 L2279.6,1406.9 L2286.8,1406.9 L2293.2,1407 L2298.8,1407 L2303.5,1407" fill="none" stroke="#00ffff" stroke-width="13.8" stroke-linecap="round" stroke-linejoin="round"/>
<path d="M359.5,985 L360.7,983.5 L362.2,981.8 L363.9,979.8 L365.8,977.6 L367.8,975.2 L370,972.6 L372.3,969.8 L374.8,967 L377.3,964 L379.9,960.9 L382.6,957.8 L385.3,954.6 L388,951.4 L390.7,948.1 L393.4,944.9 L396,941.8 L398.6,938.7 L401.2,935.7 L403.6,932.8 L405.9,930 L408.1,927.4 L410.1,925 L411.9,922.7 L413.6,920.7 L415.1,918.9 L415.5,918.4 M438.4,888.1 h0.01 M462.2,858.6 h0.01 M485.1,828.5 L486,827.7 L487.2,826.6 L488.4,825.4 L489.7,824.3 L491,823.2 L492.3,822.2 L493.6,821.1 L494.9,820 L496.2,818.9 L497.5,817.9 L498.8,816.8 L500.1,815.8 L501.4,814.8 L502.7,813.8 L504,812.8 L505.2,811.8 L506.4,810.8 L507.7,809.9 L508.8,808.9 L510,808 L511.1,807.1 L512.3,806.1 L513.4,805.1 L514.6,804.1 L515.7,803.1 L516.8,802.1 L518,801.1 L519.1,800.1 L520.2,799.1 L521.3,798.1 L522.4,797.2 L523.4,796.3 L524.5,795.4 L525.6,794.5 L526.6,793.7 L527.6,792.9 L528.6,792.2 L529.6,791.5 L530.5,790.9 L531.5,790.4 L532.4,789.9 L533.3,789.5 L534.2,789.2 L535,789 L535.8,788.9 L536.6,788.8 L537.3,788.8 L538,788.9 L538.6,789 L539.2,789.2 L539.8,789.5 L540.4,789.8 L540.9,790.2 L541.5,790.6 L542,791.1 L542.5,791.6 L543,792.1 L543.6,792.7 L544.1,793.3 L544.6,793.9 L545.2,794.6 L545.7,795.2 L546.3,795.9 L546.9,796.6 L547.6,797.3 L548.2,798 L549,798.7 L549.7,799.4 L549.9,799.6 M574.6,826.1 h0.01 M592.4,857.7 h0.01 M609.3,889.8 L609.9,890.8 L610.7,892.3 L611.5,893.8 L612.4,895.3 L613.2,896.8 L614,898.3 L614.9,899.8 L615.7,901.4 L616.6,902.9 L617.5,904.5 L618.3,906 L619.2,907.6 L620,909.1 L620.9,910.7 L621.8,912.2 L622.6,913.8 L623.5,915.4 L624.3,916.9 L625.2,918.5 L626,920 L626.8,921.6 L627.7,923.1 L628.5,924.7 L629.4,926.3 L630.3,927.9 L631.2,929.5 L632.1,931.2 L632.9,932.8 L633.8,934.4 L634.7,936 L635.6,937.7 L636.5,939.3 L637.3,940.9 L638.2,942.5 L639,944.1 L639.9,945.7 L640.7,947.3 L641.5,948.9 L642.3,950.4 L643.1,951.9 L643.8,953.4 L644.5,954.9 L645.2,956.3 L645.9,957.7 L646.5,959.1 L646.7,959.3 M659.5,991.3 h0.01 M672,1023.3 h0.01 M687.2,1054.2 L687.4,1054.8 L688.1,1056.2 L688.7,1057.6 L689.3,1059.1 L689.9,1060.5 L690.6,1062 L691.2,1063.5 L691.8,1064.9 L692.5,1066.4 L693.1,1067.9 L693.8,1069.4 L694.4,1070.9 L695.1,1072.4 L695.8,1073.9 L696.4,1075.4 L697.1,1077 L697.8,1078.5 L698.5,1080 L699.3,1081.5 L700,1083 L700.7,1084.5 L701.5,1086.1 L702.3,1087.6 L703.1,1089.2 L703.9,1090.7 L704.7,1092.3 L705.6,1093.9 L706.4,1095.5 L707.3,1097.1 L708.1,1098.7 L709,1100.3 L709.9,1102 L710.7,1103.5 L711.6,1105.1 L712.5,1106.7 L713.3,1108.3 L714.2,1109.8 L715,1111.4 L715.8,1112.9 L716.7,1114.4 L717.5,1115.9 L718.3,1117.4 L719,1118.8 L719.8,1120.2 L720.5,1121.6 L721.3,1122.9 L722,1124.3 L722.6,1125.6 L723.3,1126.9 L723.9,1128.1 M742.2,1159 h0.01 M765.3,1186.5 h0.01 M794.1,1207.6 L794.5,1207.7 L795.8,1208.2 L797.1,1208.7 L798.5,1209.2 L799.8,1209.6 L801.2,1210 L802.6,1210.4 L803.9,1210.7 L805.3,1211.1 L806.6,1211.4 L808,1211.7 L809.4,1212 L810.7,1212.3 L812.1,1212.5 L813.4,1212.8 L814.7,1213 L816.1,1213.3 L817.4,1213.5 L818.7,1213.8 L820,1214 L821.3,1214.2 L822.6,1214.4 L824,1214.6 L825.3,1214.8 L826.7,1215 L828,1215.2 L829.4,1215.3 L830.8,1215.5 L832.1,1215.6 L833.5,1215.7 L834.8,1215.8 L836.2,1215.9 L837.5,1215.9 L838.8,1216 L840,1216.1 L841.3,1216.1 L842.5,1216.1 L843.7,1216.1 L844.9,1216.1 L846,1216.1 L847,1216.1 L848.1,1216.1 L849.1,1216 L850,1216 L850.9,1215.9 L851.7,1215.9 L852.4,1215.8 L853.1,1215.7 L853.7,1215.6 L854.2,1215.4 L854.8,1215.3 L855.2,1215.1 L855.7,1215 L856.1,1214.8 L856.6,1214.6 L857,1214.4 L857.4,1214.2 L857.8,1214 L858.2,1213.8 L858.7,1213.6 L859.1,1213.3 L859.6,1213.1 L860.2,1212.8 L860.8,1212.6 L861.4,1212.3 L862.1,1212 L862.9,1211.8 L863.7,1211.5 L864.6,1211.2 L865.5,1210.9 L866.5,1210.6 L867.5,1210.3 L868.6,1210 L869.6,1209.7 L869.7,1209.7 M901.5,1198.4 h0.01 M931,1182 h0.01 M957.5,1161 L957.9,1160.7 L959.3,1159.4 L960.7,1158.1 L962.1,1156.7 L963.5,1155.3 L965,1153.9 L966.4,1152.5 L967.9,1151.1 L969.4,1149.6 L970.8,1148.1 L972.3,1146.7 L973.8,1145.2 L975.3,1143.7 L976.7,1142.2 L978.2,1140.7 L979.7,1139.3 L981.2,1137.8 L982.6,1136.3 L984.1,1134.9 L985.5,1133.4 L987,1132 L988.5,1130.6 L989.9,1129.1 L991.4,1127.7 L992.9,1126.3 L994.4,1124.8 L995.9,1123.4 L997.4,1121.9 L998.9,1120.4 L1000.4,1119 L1001.9,1117.5 L1003.4,1116.1 L1004.9,1114.6 L1006.4,1113.1 L1007.9,1111.7 L1009.4,1110.2 L1010.8,1108.8 L1012.3,1107.4 L1013.7,1105.9 L1015.2,1104.5 L1016.6,1103.1 L1018,1101.7 L1019.3,1100.3 L1020.7,1099 L1022,1097.6 L1023.3,1096.3 L1024.1,1095.4 M1051.6,1065.4 h0.01 M1081.1,1037.3 h0.01 M1111.3,1009.9 L1111.9,1009.3 L1113.3,1007.8 L1114.8,1006.4 L1116.3,1004.8 L1117.8,1003.3 L1119.3,1001.8 L1120.9,1000.2 L1122.4,998.6 L1124,997.1 L1125.5,995.5 L1127.1,993.9 L1128.7,992.4 L1130.3,990.9 L1131.8,989.4 L1133.4,987.9 L1135,986.5 L1136.5,985.1 L1138.1,983.7 L1139.6,982.4 L1141.2,981.2 L1142.7,980 L1144.2,978.9 L1145.8,977.8 L1147.3,976.7 L1148.9,975.7 L1150.4,974.7 L1152,973.7 L1153.5,972.8 L1155.1,971.9 L1156.7,971 L1158.3,970.2 L1159.8,969.3 L1161.4,968.5 L1162.9,967.7 L1164.5,966.9 L1166,966.1 L1167.5,965.4 L1169.1,964.6 L1170.6,963.9 L1172,963.1 L1173.5,962.4 L1175,961.6 L1176.4,960.9 L1177.8,960.2 L1178.1,960 M1210.6,942.8 h0.01 M1243.4,926.4 h0.01 M1276.1,909.7 L1276.6,909.5 L1278,909 L1279.5,908.5 L1280.9,907.9 L1282.4,907.4 L1283.8,906.9 L1285.3,906.4 L1286.8,905.8 L1288.3,905.3 L1289.7,904.8 L1291.2,904.3 L1292.8,903.7 L1294.3,903.2 L1295.8,902.6 L1297.3,902 L1298.8,901.5 L1300.4,900.9 L1301.9,900.3 L1303.5,899.6 L1305,899 L1306.6,898.3 L1308.1,897.7 L1309.8,897 L1311.4,896.2 L1313,895.5 L1314.7,894.8 L1316.4,894 L1318,893.2 L1319.7,892.5 L1321.4,891.7 L1323.1,890.9 L1324.8,890.1 L1326.5,889.3 L1328.2,888.6 L1329.8,887.8 L1331.5,887 L1333.1,886.2 L1334.7,885.4 L1336.3,884.7 L1337.9,883.9 L1339.5,883.2 L1341,882.5 L1342.5,881.8 L1343.9,881.1 L1345.3,880.4 L1346.7,879.8 L1347.7,879.3 M1378.1,864.2 h0.01 M1408.7,849.6 h0.01 M1441,839.2 L1441.7,839.1 L1442.6,838.8 L1443.6,838.5 L1444.5,838.3 L1445.5,838 L1446.4,837.8 L1447.4,837.6 L1448.4,837.5 L1449.4,837.3 L1450.4,837.2 L1451.5,837.1 L1452.6,837.1 L1453.8,837.1 L1455,837.1 L1456.3,837.2 L1457.6,837.3 L1459,837.4 L1460.5,837.6 L1462.1,837.8 L1463.7,838.1 L1465.5,838.4 L1467.3,838.8 L1469.2,839.2 L1471.2,839.6 L1473.2,840.1 L1475.2,840.6 L1477.3,841.1 L1479.5,841.7 L1481.6,842.3 L1483.7,842.9 L1485.9,843.5 L1488,844.2 L1490.2,844.8 L1492.3,845.5 L1494.4,846.2 L1496.4,847 L1498.4,847.7 L1500.4,848.4 L1502.3,849.2 L1504.1,850 L1505.8,850.7 L1507.5,851.5 L1509.1,852.3 L1510.6,853.1 L1512.1,853.9 L1513.5,854.8 L1514.9,855.6 L1516.2,856.5 L1517.5,857.4 L1518.8,858.3 L1520.1,859.3 L1520.2,859.3 M1547.3,883.7 h0.01 M1572.4,910.2 h0.01 M1595.2,938.8 L1595.4,939.1 L1596.3,940.3 L1597.1,941.4 L1598,942.6 L1598.8,943.7 L1599.7,944.9 L1600.5,946 L1601.3,947.2 L1602.1,948.3 L1603,949.4 L1603.8,950.6 L1604.6,951.7 L1605.4,952.8 L1606.2,953.8 L1607,954.9 L1607.8,956 L1608.6,957 L1609.4,958 L1610.2,959 L1611,960 L1611.8,961 L1612.6,961.9 L1613.4,962.8 L1614.2,963.6 L1615,964.5 L1615.7,965.3 L1616.5,966.1 L1617.3,966.9 L1618.1,967.7 L1618.8,968.4 L1619.6,969.2 L1620.4,970 L1621.1,970.7 L1621.9,971.5 L1622.6,972.3 L1623.4,973 L1624.1,973.8 L1624.9,974.6 L1625.6,975.5 L1626.3,976.3 L1627.1,977.2 L1627.8,978.1 L1628.5,979 L1629.2,980 L1629.9,981 L1630.6,982 L1631.3,983 L1631.9,984.1 L1632.6,985.1 L1633.2,986.2 L1633.9,987.3 L1634.5,988.4 L1635.1,989.5 L1635.8,990.7 L1636.4,991.8 L1637,993 L1637.7,994.1 L1638.3,995.3 L1638.9,996.5 L1639.6,997.6 L1640.2,998.8 L1640.9,1000 L1641.5,1001.2 L1642.2,1002.4 L1642.9,1003.7 L1643.6,1004.9 L1644.3,1006.1 L1645,1007.3 L1645.7,1008.5 L1645.8,1008.7 M1665.7,1040.8 h0.01 M1684.6,1073.6 h0.01 M1703.3,1106.4 L1704.1,1107.8 L1705,1109.3 L1706,1110.8 L1706.9,1112.3 L1707.8,1113.9 L1708.7,1115.4 L1709.7,1116.9 L1710.6,1118.5 L1711.6,1120 L1712.5,1121.6 L1713.5,1123.1 L1714.4,1124.7 L1715.4,1126.2 L1716.3,1127.8 L1717.3,1129.3 L1718.2,1130.9 L1719.2,1132.4 L1720.1,1134 L1721.1,1135.5 L1722,1137 L1722.9,1138.5 L1723.9,1140 L1724.8,1141.6 L1725.8,1143.1 L1726.7,1144.7 L1727.7,1146.2 L1728.7,1147.8 L1729.6,1149.3 L1730.6,1150.9 L1731.5,1152.4 L1732.5,1154 L1733.5,1155.5 L1734.4,1157.1 L1735.4,1158.6 L1736.3,1160.1 L1737.2,1161.6 L1738.2,1163.1 L1739.1,1164.6 L1740,1166 L1740.8,1167.5 L1741.7,1168.9 L1742.6,1170.3 L1743.4,1171.7 L1744.2,1173 L1745,1174.3 L1745.8,1175.6 L1746.4,1176.8 M1764.5,1207.8 h0.01 M1784.4,1237.8 h0.01 M1807.6,1265.3 L1808.1,1265.9 L1809.4,1267.5 L1810.7,1269.2 L1812,1270.9 L1813.3,1272.5 L1814.6,1274.3 L1816,1276 L1817.3,1277.7 L1818.7,1279.5 L1820.1,1281.3 L1821.4,1283 L1822.8,1284.8 L1824.2,1286.5 L1825.6,1288.3 L1826.9,1290 L1828.3,1291.8 L1829.7,1293.5 L1831,1295.1 L1832.4,1296.8 L1833.7,1298.4 L1835,1300 L1836.3,1301.6 L1837.6,1303.1 L1838.9,1304.7 L1840.2,1306.3 L1841.5,1307.9 L1842.8,1309.4 L1844.1,1311 L1845.4,1312.6 L1846.7,1314.1 L1848,1315.7 L1849.3,1317.2 L1850.6,1318.7 L1851.9,1320.2 L1853.2,1321.7 L1854.4,1323.1 L1855.7,1324.6 L1857,1326 L1858.2,1327.4 L1859.5,1328.8 L1859.8,1329.1 M1886.7,1353 h0.01 M1917.3,1371.8 h0.01 M1950.3,1386 L1951.5,1386.4 L1953.1,1387 L1954.8,1387.5 L1956.5,1388.1 L1958.2,1388.6 L1959.9,1389.1 L1961.6,1389.6 L1963.3,1390.1 L1965,1390.6 L1966.7,1391.1 L1968.3,1391.6 L1970,1392 L1971.7,1392.4 L1973.3,1392.8 L1974.9,1393.2 L1976.6,1393.6 L1978.2,1393.9 L1979.8,1394.3 L1981.4,1394.6 L1983,1394.9 L1984.6,1395.2 L1986.2,1395.5 L1987.8,1395.8 L1989.4,1396.1 L1991,1396.3 L1992.6,1396.6 L1994.3,1396.8 L1995.9,1397.1 L1997.6,1397.3 L1999.3,1397.6 L2001,1397.8 L2002.8,1398 L2004.5,1398.3 L2006.3,1398.5 L2008.1,1398.8 L2010,1399 L2011.9,1399.2 L2013.8,1399.5 L2015.8,1399.7 L2017.9,1400 L2019.9,1400.2 L2022,1400.5 L2024.2,1400.7 L2026.3,1400.9 L2028.5,1401.2 L2030.6,1401.4 L2031.1,1401.4 M2066.9,1404.7 h0.01 M2102.9,1406 h0.01 M2138.8,1406.3 L2144.1,1406.3 L2153.5,1406.4 L2163.3,1406.4 L2173.3,1406.5 L2183.5,1406.5 L2193.9,1406.6 L2204.2,1406.6 L2214.6,1406.7 L2221.3,1406.7 M2257.3,1406.8 h0.01 M2293.3,1407 h0.01" fill="none" stroke="#808000" stroke-width="13.8" stroke-linecap="round" stroke-linejoin="round"/>
<path d="M359.5,1033 L360.8,1031.7 L362.4,1030.1 L364.3,1028.3 L366.3,1026.2 L368.5,1024 L370.8,1021.6 L373.3,1019.1 L376,1016.4 L378.7,1013.7 L381.5,1010.8 L384.4,1008 L387.3,1005 L390.2,1002.1 L393.1,999.2 L396,996.3 L398.9,993.5 L401.7,990.7 L404.5,988 L407.1,985.5 L409.6,983.1 L412,980.9 L414.2,978.8 L416.2,977 L418,975.4 L418.8,974.7 M448.4,954.8 h0.01 M470.9,926.3 h0.01 M495.3,899.5 L496.1,898.7 L497,897.8 L497.9,897 L498.8,896.1 L499.7,895.3 L500.6,894.5 L501.4,893.7 L502.3,892.9 L503.1,892.1 L504,891.3 L504.9,890.5 L505.7,889.7 L506.6,888.9 L507.5,888.1 L508.4,887.3 L509.3,886.5 L510.2,885.7 L511.1,884.9 L512,884 L512.9,883.1 L513.9,882.2 L514.8,881.1 L515.7,880.1 L516.7,879 L517.6,877.9 L518.5,876.8 L519.5,875.7 L520.4,874.5 L521.4,873.4 L522.3,872.3 L523.3,871.2 L524.2,870.2 L525.2,869.1 L526.2,868.2 L527.1,867.3 L528.1,866.4 L529.1,865.6 L530.1,865 L531,864.3 L532,863.8 L533,863.4 L534,863.2 L535,863 L536,863 L537,863 L538,863.2 L539,863.4 L540,863.7 L541.1,864.1 L542.1,864.6 L543.1,865.1 L544.2,865.7 L545.2,866.4 L546.2,867.1 L547.3,867.9 L548.3,868.7 L549.4,869.6 L550.4,870.5 L551.5,871.4 L552.5,872.3 L553.6,873.3 L554.6,874.3 L555.7,875.3 L556.8,876.3 L557.9,877.3 L558.9,878.3 L560,879.3 L561.1,880.3 L562.2,881.4 L562.7,881.9 M587.5,911.5 h0.01 M609.3,943.4 h0.01 M628.6,977 L629.2,978.1 L630,979.5 L630.9,981 L631.7,982.5 L632.6,984 L633.5,985.5 L634.4,987 L635.2,988.6 L636.1,990.1 L637,991.6 L637.9,993.2 L638.8,994.7 L639.7,996.3 L640.6,997.8 L641.5,999.4 L642.4,1000.9 L643.3,1002.4 L644.2,1004 L645.1,1005.5 L646,1007 L646.9,1008.5 L647.8,1010 L648.8,1011.6 L649.7,1013.1 L650.7,1014.7 L651.7,1016.2 L652.6,1017.8 L653.6,1019.3 L654.6,1020.9 L655.6,1022.5 L656.6,1024 L657.6,1025.6 L658.5,1027.1 L659.5,1028.7 L660.4,1030.2 L661.4,1031.7 L662.3,1033.2 L663.2,1034.8 L664.1,1036.3 L664.9,1037.7 L665.7,1039.2 L666.5,1040.7 L667.3,1042.1 L668,1043.5 L668.7,1044.9 L669.3,1046.3 L669.6,1046.8 M682.4,1079.6 h0.01 M698.8,1110.9 h0.01 M715,1142.1 L715,1142.2 L716.1,1143.6 L717.2,1145.1 L718.4,1146.5 L719.6,1148 L720.8,1149.5 L722,1151 L723.3,1152.5 L724.5,1154 L725.8,1155.5 L727.1,1157 L728.4,1158.5 L729.7,1160 L731,1161.5 L732.3,1163 L733.6,1164.5 L734.9,1166 L736.2,1167.5 L737.5,1169 L738.8,1170.5 L740,1172 L741.2,1173.5 L742.5,1175 L743.7,1176.6 L745,1178.2 L746.2,1179.8 L747.5,1181.4 L748.7,1183 L750,1184.7 L751.3,1186.3 L752.5,1187.9 L753.8,1189.5 L755,1191.1 L756.3,1192.7 L757.6,1194.3 L758.8,1195.8 L760.1,1197.3 L761.4,1198.8 L762.6,1200.2 L763.9,1201.6 L765.1,1202.9 L766,1203.8 M796.3,1220.1 h0.01 M830,1228.9 h0.01 M864.4,1225.9 L865,1225.8 L866.5,1225.3 L868,1224.7 L869.5,1224.2 L871.1,1223.6 L872.6,1223 L874.2,1222.4 L875.8,1221.7 L877.4,1221.1 L879,1220.4 L880.6,1219.8 L882.2,1219.1 L883.8,1218.5 L885.4,1217.8 L887,1217.1 L888.6,1216.5 L890.2,1215.8 L891.8,1215.2 L893.4,1214.6 L895,1214 L896.6,1213.4 L898.2,1212.8 L899.8,1212.3 L901.4,1211.7 L903,1211.1 L904.7,1210.6 L906.3,1210 L908,1209.5 L909.6,1208.9 L911.3,1208.3 L912.9,1207.8 L914.6,1207.2 L916.2,1206.6 L917.8,1206 L919.5,1205.4 L921.1,1204.8 L922.7,1204.2 L924.2,1203.6 L925.8,1203 L927.3,1202.3 L928.8,1201.7 L930.3,1201 L931.8,1200.3 L933.2,1199.6 L934.6,1198.9 L936,1198.1 L937.3,1197.4 L938.6,1196.6 L939.9,1195.9 L941.2,1195.1 L942.4,1194.3 L942.8,1194.1 M972.3,1171.9 h0.01 M1000.5,1148.1 h0.01 M1028.8,1124.3 L1029.1,1124 L1030.6,1122.9 L1032,1121.7 L1033.5,1120.5 L1035.1,1119.3 L1036.6,1118.1 L1038.1,1116.9 L1039.7,1115.7 L1041.2,1114.5 L1042.8,1113.3 L1044.3,1112.1 L1045.9,1110.9 L1047.5,1109.7 L1049.1,1108.5 L1050.6,1107.3 L1052.2,1106 L1053.8,1104.8 L1055.3,1103.6 L1056.9,1102.4 L1058.5,1101.2 L1060,1100 L1061.5,1098.8 L1063.1,1097.6 L1064.7,1096.3 L1066.3,1095.1 L1067.9,1093.8 L1069.5,1092.6 L1071.1,1091.3 L1072.7,1090 L1074.3,1088.7 L1075.9,1087.5 L1077.5,1086.2 L1079.1,1084.9 L1080.7,1083.7 L1082.3,1082.4 L1083.9,1081.2 L1085.5,1080 L1087,1078.8 L1088.6,1077.6 L1090.1,1076.4 L1091.6,1075.3 L1093.1,1074.2 L1094.6,1073.1 L1096,1072 L1097.2,1071.1 M1128.9,1050.5 h0.01 M1161.5,1031.5 h0.01 M1195.4,1015 L1196.4,1014.5 L1197.9,1013.9 L1199.4,1013.3 L1201,1012.7 L1202.5,1012.1 L1204.1,1011.4 L1205.6,1010.8 L1207.2,1010.2 L1208.7,1009.6 L1210.3,1009 L1211.9,1008.4 L1213.5,1007.8 L1215,1007.2 L1216.6,1006.6 L1218.2,1006 L1219.8,1005.4 L1221.3,1004.8 L1222.9,1004.2 L1224.5,1003.6 L1226,1003 L1227.5,1002.4 L1229.1,1001.8 L1230.7,1001.3 L1232.3,1000.7 L1233.9,1000.1 L1235.5,999.5 L1237.1,999 L1238.7,998.4 L1240.3,997.8 L1241.9,997.3 L1243.5,996.7 L1245.1,996.2 L1246.7,995.6 L1248.3,995 L1249.8,994.5 L1251.4,993.9 L1252.9,993.4 L1254.5,992.8 L1256,992.3 L1257.4,991.8 L1258.9,991.2 L1260.3,990.7 L1261.7,990.1 L1263.1,989.6 L1264.4,989.1 L1265.7,988.5 L1266.8,988.1 M1297.3,974.8 h0.01 M1328.4,962.8 h0.01 M1359,949.8 L1359.9,949.5 L1361.4,948.9 L1362.9,948.3 L1364.5,947.7 L1366.1,947.1 L1367.6,946.5 L1369.2,945.9 L1370.8,945.2 L1372.4,944.6 L1374,944 L1375.6,943.4 L1377.2,942.8 L1378.9,942.2 L1380.5,941.6 L1382.1,941 L1383.7,940.4 L1385.3,939.8 L1386.9,939.2 L1388.4,938.6 L1390,938 L1391.6,937.4 L1393.1,936.8 L1394.7,936.2 L1396.3,935.7 L1397.9,935.1 L1399.6,934.5 L1401.2,933.9 L1402.8,933.3 L1404.4,932.7 L1406,932.1 L1407.6,931.5 L1409.2,930.9 L1410.9,930.4 L1412.4,929.8 L1414,929.2 L1415.6,928.7 L1417.1,928.1 L1418.7,927.6 L1420.2,927.1 L1421.7,926.5 L1423.1,926 L1424.6,925.5 L1426,925.1 L1427.4,924.6 L1428.8,924.1 L1429.6,923.8 M1461.2,915.5 h0.01 M1493.7,919 h0.01 M1524,931.4 L1524.8,931.9 L1526.1,932.7 L1527.5,933.6 L1529,934.4 L1530.4,935.3 L1531.8,936.3 L1533.2,937.2 L1534.6,938.1 L1536.1,939.1 L1537.5,940.1 L1539,941.1 L1540.4,942 L1541.8,943 L1543.3,944 L1544.7,945 L1546.2,946 L1547.6,947 L1549.1,948 L1550.5,949 L1552,950 L1553.5,951 L1554.9,951.9 L1556.4,952.9 L1557.9,953.8 L1559.4,954.8 L1560.9,955.7 L1562.4,956.6 L1563.9,957.6 L1565.4,958.5 L1567,959.5 L1568.5,960.4 L1570,961.4 L1571.5,962.4 L1573,963.4 L1574.5,964.4 L1576,965.5 L1577.5,966.5 L1579,967.6 L1580.4,968.8 L1581.9,969.9 L1583.3,971.2 L1584.7,972.4 L1586.1,973.7 L1587.5,975 L1588.9,976.4 L1590.2,977.8 L1591.5,979.3 L1592.9,980.9 L1594.2,982.5 L1595.5,984.1 L1596.8,985.8 L1596.9,986 M1620.6,1018.2 h0.01 M1647,1048.2 h0.01 M1669.8,1081 L1669.9,1081.1 L1670.9,1082.6 L1672,1084 L1673.1,1085.5 L1674.1,1087.1 L1675.2,1088.6 L1676.4,1090.1 L1677.5,1091.7 L1678.6,1093.2 L1679.7,1094.8 L1680.8,1096.3 L1682,1097.9 L1683.1,1099.5 L1684.2,1101.1 L1685.4,1102.6 L1686.5,1104.2 L1687.6,1105.8 L1688.7,1107.3 L1689.8,1108.9 L1690.9,1110.5 L1692,1112 L1693.1,1113.5 L1694.2,1115.1 L1695.3,1116.7 L1696.4,1118.3 L1697.5,1119.9 L1698.6,1121.5 L1699.7,1123.1 L1700.8,1124.7 L1701.9,1126.3 L1703,1127.9 L1704.1,1129.5 L1705.2,1131.1 L1706.3,1132.7 L1707.4,1134.3 L1708.5,1135.8 L1709.5,1137.4 L1710.6,1139 L1711.6,1140.5 L1712.7,1142 L1713.7,1143.5 L1714.7,1145 L1715.7,1146.5 L1716.6,1147.9 L1717.6,1149.3 L1718.5,1150.7 L1719.5,1152 L1719.8,1152.6 M1740.9,1184.3 h0.01 M1761.6,1216.2 h0.01 M1783.9,1247 L1784,1247.1 L1785.1,1248.6 L1786.2,1250 L1787.4,1251.4 L1788.6,1252.8 L1789.8,1254.2 L1791,1255.7 L1792.2,1257.1 L1793.4,1258.5 L1794.6,1260 L1795.8,1261.4 L1797.1,1262.9 L1798.3,1264.3 L1799.5,1265.8 L1800.7,1267.3 L1802,1268.7 L1803.2,1270.2 L1804.4,1271.6 L1805.6,1273.1 L1806.8,1274.5 L1808,1276 L1809.2,1277.5 L1810.4,1278.9 L1811.5,1280.4 L1812.7,1281.9 L1813.9,1283.4 L1815.1,1284.9 L1816.2,1286.5 L1817.4,1288 L1818.6,1289.5 L1819.8,1291 L1820.9,1292.6 L1822.1,1294.1 L1823.3,1295.6 L1824.5,1297.1 L1825.7,1298.6 L1826.9,1300.1 L1828.1,1301.6 L1829.3,1303 L1830.5,1304.5 L1831.7,1305.9 L1832.9,1307.4 L1834.1,1308.8 L1835.4,1310.1 L1836.6,1311.5 L1837.9,1312.8 L1839.1,1314.2 L1839.2,1314.3 M1867.2,1340.1 h0.01 M1898.6,1361.4 h0.01 M1932.5,1378.4 L1933.5,1378.8 L1935.1,1379.3 L1936.7,1379.9 L1938.3,1380.4 L1940,1380.9 L1941.7,1381.5 L1943.4,1382 L1945.1,1382.5 L1946.8,1383 L1948.5,1383.5 L1950.2,1384 L1951.9,1384.5 L1953.6,1385 L1955.3,1385.4 L1956.9,1385.9 L1958.6,1386.3 L1960.2,1386.8 L1961.9,1387.2 L1963.4,1387.6 L1965,1388 L1966.5,1388.4 L1968,1388.8 L1969.5,1389.1 L1970.9,1389.5 L1972.3,1389.8 L1973.7,1390.1 L1975,1390.4 L1976.4,1390.7 L1977.8,1391 L1979.1,1391.3 L1980.5,1391.6 L1981.8,1391.9 L1983.2,1392.1 L1984.6,1392.4 L1986,1392.7 L1987.4,1392.9 L1988.8,1393.2 L1990.3,1393.4 L1991.8,1393.7 L1993.3,1393.9 L1994.9,1394.2 L1996.6,1394.5 L1998.3,1394.7 L2000,1395 L2001.8,1395.3 L2003.6,1395.5 L2005.5,1395.8 L2007.5,1396.1 L2009.4,1396.4 L2011.4,1396.6 L2013.5,1396.9 L2015.6,1397.2 L2017.4,1397.4 M2055.2,1401.5 h0.01 M2093.1,1403.9 h0.01 M2131.1,1404.5 L2135.9,1404.5 L2144.9,1404.6 L2154.3,1404.7 L2164,1404.8 L2174,1404.9 L2184.2,1405 L2194.5,1405.1 L2204.9,1405.2 L2215.2,1405.3 L2218.2,1405.3 M2256.2,1405.6 h0.01 M2294.2,1405.9 h0.01" fill="none" stroke="#c0c0c0" stroke-width="13.8" stroke-linecap="round" stroke-linejoin="round"/>
<path d="M359.5,1411.5 H2303.5 V2770.5 H359.5 Z" fill="none" stroke="#000" stroke-width="13.5" stroke-linejoin="round"/>
<line x1="602.5" y1="1411.5" x2="602.5" y2="1441.5" stroke="#000" stroke-width="13.5" stroke-linecap="round"/>
<line x1="845.5" y1="1411.5" x2="845.5" y2="1459" stroke="#000" stroke-width="13.5" stroke-linecap="round"/>
<line x1="1088.5" y1="1411.5" x2="1088.5" y2="1441.5" stroke="#000" stroke-width="13.5" stroke-linecap="round"/>
<line x1="1331.5" y1="1411.5" x2="1331.5" y2="1459" stroke="#000" stroke-width="13.5" stroke-linecap="round"/>
<line x1="1574.5" y1="1411.5" x2="1574.5" y2="1441.5" stroke="#000" stroke-width="13.5" stroke-linecap="round"/>
<line x1="1817.5" y1="1411.5" x2="1817.5" y2="1459" stroke="#000" stroke-width="13.5" stroke-linecap="round"/>
<line x1="2060.5" y1="1411.5" x2="2060.5" y2="1441.5" stroke="#000" stroke-width="13.5" stroke-linecap="round"/>
<line x1="602.5" y1="2770.5" x2="602.5" y2="2740.2" stroke="#000" stroke-width="13.5" stroke-linecap="round"/>
<line x1="845.5" y1="2770.5" x2="845.5" y2="2723.5" stroke="#000" stroke-width="13.5" stroke-linecap="round"/>
<line x1="1088.5" y1="2770.5" x2="1088.5" y2="2740.2" stroke="#000" stroke-width="13.5" stroke-linecap="round"/>
<line x1="1331.5" y1="2770.5" x2="1331.5" y2="2723.5" stroke="#000" stroke-width="13.5" stroke-linecap="round"/>
<line x1="1574.5" y1="2770.5" x2="1574.5" y2="2740.2" stroke="#000" stroke-width="13.5" stroke-linecap="round"/>
<line x1="1817.5" y1="2770.5" x2="1817.5" y2="2723.5" stroke="#000" stroke-width="13.5" stroke-linecap="round"/>
<line x1="2060.5" y1="2770.5" x2="2060.5" y2="2740.2" stroke="#000" stroke-width="13.5" stroke-linecap="round"/>
<line x1="359.5" y1="2152.8" x2="407.5" y2="2152.8" stroke="#000" stroke-width="13.5" stroke-linecap="round"/>
<line x1="2303.5" y1="2152.8" x2="2255.5" y2="2152.8" stroke="#000" stroke-width="13.5" stroke-linecap="round"/>
<line x1="359.5" y1="1535" x2="407.5" y2="1535" stroke="#000" stroke-width="13.5" stroke-linecap="round"/>
<line x1="2303.5" y1="1535" x2="2255.5" y2="1535" stroke="#000" stroke-width="13.5" stroke-linecap="round"/>
<line x1="359.5" y1="2461.6" x2="388.5" y2="2461.6" stroke="#000" stroke-width="13.5" stroke-linecap="round"/>
<line x1="2303.5" y1="2461.6" x2="2274.5" y2="2461.6" stroke="#000" stroke-width="13.5" stroke-linecap="round"/>
<line x1="359.5" y1="1843.9" x2="388.5" y2="1843.9" stroke="#000" stroke-width="13.5" stroke-linecap="round"/>
<line x1="2303.5" y1="1843.9" x2="2274.5" y2="1843.9" stroke="#000" stroke-width="13.5" stroke-linecap="round"/>
<path d="M361,1942 C362.8,1940 367.8,1936.2 371.8,1930 C375.8,1923.8 380.6,1917.4 385,1905 C389.4,1892.6 393.1,1870.6 398,1855.5 C402.9,1840.4 409.9,1828 414.6,1814.3 C419.3,1800.5 421.8,1785.4 426.2,1773 C430.6,1760.6 436.3,1750.2 441,1740 C445.7,1729.8 450.4,1721.6 454.2,1712 C458,1702.4 461.2,1692 464,1682.4 C466.8,1672.8 468.8,1660.4 470.7,1654.4 C472.6,1648.4 473.9,1650.1 475.5,1646.5 C477.1,1642.9 477.7,1639.1 480.6,1633 C483.5,1626.9 490.1,1616.8 492.9,1609.9 C495.7,1603 495.8,1598.6 497.5,1591.6 C499.2,1584.6 501.2,1572.8 503,1568 C504.8,1563.2 506.2,1562 508.5,1562.7 C510.8,1563.4 514.4,1570.3 516.6,1572 C518.9,1573.7 520.1,1573 522,1573 C523.9,1573 526.3,1570.8 528,1572 C529.7,1573.2 530.7,1576.5 532,1580 C533.3,1583.5 533.8,1588 536,1593 C538.2,1598 541.4,1602.6 545,1610 C548.6,1617.4 554,1630.2 557.4,1637.4 C560.8,1644.6 562.1,1642.9 565.5,1653.3 C568.9,1663.7 574.5,1685.3 578,1700 C581.5,1714.7 579.9,1712.3 586.7,1741.2 C593.5,1770.1 609.7,1837.9 619,1873.2 C628.3,1908.5 635.4,1925.3 642.3,1953.3 C649.2,1981.3 653,2006.8 660.6,2041.2 C668.2,2075.7 681.6,2127.6 687.7,2160 C693.8,2192.4 693.5,2215.4 697,2235.5 C700.5,2255.6 704.7,2265.7 709,2280.8 C713.3,2295.9 718.2,2311.1 723,2326.2 C727.8,2341.3 731.8,2355.9 738,2371.5 C744.2,2387.1 751.3,2406.1 760,2420 C768.7,2433.9 780.7,2446 790,2455 C799.3,2464 807.7,2472.2 816,2474 C824.3,2475.8 831,2468.7 840,2466 C849,2463.3 860.8,2462.6 870,2458 C879.2,2453.4 884.5,2453.2 895,2438.7 C905.5,2424.2 923.3,2390.8 933.3,2371 C943.3,2351.2 948.5,2336.1 955,2320 C961.5,2303.9 963.2,2293.7 972.1,2274.7 C981,2255.7 998.1,2228.9 1008.5,2206 C1018.9,2183.1 1026.6,2160.3 1034.6,2137.4 C1042.6,2114.5 1047.8,2091.6 1056.3,2068.7 C1064.8,2045.8 1075,2029.2 1085.9,2000 C1096.8,1970.8 1110.4,1919.4 1121.9,1893.4 C1133.4,1867.4 1140.3,1864.7 1155,1843.8 C1169.7,1822.9 1194.1,1789 1209.9,1768 C1225.7,1747 1236.2,1734.3 1250,1718 C1263.8,1701.7 1278.4,1685.3 1292.4,1670 C1306.4,1654.7 1320.1,1639.7 1334.2,1626 C1348.3,1612.3 1365,1598.7 1376.8,1588 C1388.6,1577.3 1396.3,1569.5 1405.2,1562 C1414.1,1554.5 1423,1545.5 1430,1543 C1437,1540.5 1441.7,1544.2 1447,1547 C1452.3,1549.8 1456.8,1553.6 1462,1560 C1467.2,1566.4 1470.8,1571.5 1478.5,1585.2 C1486.2,1598.9 1498.7,1623.3 1508.3,1642 C1517.9,1660.7 1527.3,1676.7 1535.9,1697.4 C1544.5,1718.1 1551.9,1740.8 1559.9,1766 C1567.9,1791.2 1578,1826.5 1584,1848.5 C1590,1870.5 1588.7,1871.1 1596,1898.1 C1603.3,1925 1617.3,1972.8 1628,2010.2 C1638.7,2047.6 1651.3,2090.8 1660,2122.4 C1668.7,2154 1672.5,2170.4 1680,2200 C1687.5,2229.6 1697,2270.2 1705,2300 C1713,2329.8 1719.4,2349.4 1727.7,2378.5 C1736,2407.6 1746.4,2447.7 1755.1,2474.6 C1763.8,2501.5 1770.8,2519.1 1780,2540 C1789.2,2560.9 1798.3,2581.7 1810,2600 C1821.7,2618.3 1835,2634.2 1850,2650 C1865,2665.8 1883.3,2684.7 1900,2695 C1916.7,2705.3 1934.5,2708 1950,2712 C1965.5,2716 1979.7,2715.5 1993,2719 C2006.3,2722.5 2018.2,2728.7 2030,2733 C2041.8,2737.3 2052.3,2741.7 2064,2745 C2075.7,2748.3 2085.7,2750.7 2100,2753 C2114.3,2755.3 2125,2757 2150,2759 C2175,2761 2224.4,2763.7 2250,2765 C2275.6,2766.3 2294.6,2766.7 2303.5,2767" fill="none" stroke="#000000" stroke-width="13.8" stroke-linecap="round" stroke-linejoin="round"/>
<path d="M359.5,1935 C361.7,1928.8 367.6,1911 372.5,1898 C377.4,1885 383.5,1870.7 389,1857 C394.5,1843.3 399.9,1829.7 405.4,1816 C410.9,1802.3 416.5,1788.7 422,1775 C427.5,1761.3 432.9,1749 438.4,1734 C443.9,1719 449.5,1701.3 455,1685 C460.5,1668.7 466.8,1649.7 471.4,1636 C476,1622.3 479.1,1613.7 482.9,1603 C486.7,1592.3 490.3,1579.7 494,1572 C497.7,1564.3 501.1,1560.7 505,1557 C508.9,1553.3 513.1,1550 517.6,1550 C522.1,1550 526.8,1550.1 532,1557 C537.2,1563.9 544,1578.2 549.1,1591.6 C554.2,1605 559.1,1627.1 562.9,1637.4 C566.7,1647.7 568.6,1642.9 572,1653.3 C575.4,1663.7 579.3,1685.3 583,1700 C586.7,1714.7 586.8,1712.3 594,1741.2 C601.2,1770.1 618,1837.9 626.3,1873.2 C634.6,1908.5 637.6,1925.3 643.7,1953.3 C649.8,1981.3 655.1,2006.8 662.8,2041.2 C670.5,2075.7 683.8,2127.6 690,2160 C696.2,2192.4 696.3,2215.4 700,2235.5 C703.7,2255.6 707.7,2265.7 712,2280.8 C716.3,2295.9 721.2,2311.1 726,2326.2 C730.8,2341.3 735,2356.4 741,2371.5 C747,2386.6 752.2,2403.4 762,2416.8 C771.8,2430.2 787.5,2444.5 800,2452 C812.5,2459.5 825.3,2461.5 837,2462 C848.7,2462.5 860.7,2458.9 870,2455 C879.3,2451.1 882.6,2452.7 893,2438.7 C903.4,2424.7 922.4,2390.8 932.4,2371 C942.4,2351.2 946.6,2336.1 953,2320 C959.4,2303.9 961.7,2293.7 970.7,2274.7 C979.7,2255.7 996.8,2228.9 1007.1,2206 C1017.4,2183.1 1024.7,2160.3 1032.6,2137.4 C1040.5,2114.5 1045.8,2091.6 1054.3,2068.7 C1062.8,2045.8 1073.1,2029.2 1083.9,2000 C1094.7,1970.8 1108,1920.5 1119,1893.4 C1130,1866.3 1134.8,1859.5 1150,1837.3 C1165.2,1815.1 1193.2,1780.9 1209.9,1760 C1226.6,1739.1 1236.2,1727.7 1250,1712 C1263.8,1696.3 1278.4,1680.8 1292.4,1666 C1306.4,1651.2 1320.1,1636.8 1334.2,1623 C1348.3,1609.2 1365,1593.8 1376.8,1583 C1388.6,1572.2 1395.8,1565.7 1405.2,1558 C1414.6,1550.3 1425.5,1540 1433,1537 C1440.5,1534 1445.2,1536.8 1450,1540 C1454.8,1543.2 1456.8,1548.5 1462,1556 C1467.2,1563.5 1473.2,1573.1 1481.3,1585.2 C1489.4,1597.3 1501,1610 1510.4,1628.7 C1519.8,1647.4 1529.7,1674.5 1537.9,1697.4 C1546.2,1720.3 1552.1,1740.8 1559.9,1766 C1567.7,1791.2 1578.5,1826.5 1584.6,1848.5 C1590.7,1870.5 1589.1,1871.1 1596.4,1898.1 C1603.7,1925 1618.1,1972.8 1628.5,2010.2 C1638.9,2047.6 1651,2091.7 1658.9,2122.4 C1666.8,2153.1 1667.2,2158.7 1675.8,2194.5 C1684.4,2230.3 1699.1,2290.6 1710.6,2337.3 C1722.1,2384 1733.8,2437.5 1745,2474.6 C1756.2,2511.7 1766.3,2530.4 1778,2560 C1789.7,2589.6 1800.3,2625.7 1815,2652 C1829.7,2678.3 1850.6,2702.8 1866.4,2718 C1882.2,2733.2 1894.1,2736.5 1909.7,2743 C1925.3,2749.5 1945,2753.5 1960,2757 C1975,2760.5 1976.7,2762.2 2000,2764 C2023.3,2765.8 2049.4,2767.1 2100,2768 C2150.6,2768.9 2269.6,2769.2 2303.5,2769.5" fill="none" stroke="#ff0000" stroke-width="13.8" stroke-linecap="round" stroke-linejoin="round"/>
<path d="M359.5,1927.7 C361,1922.5 364.2,1908.7 368.5,1896.7 C372.8,1884.7 379.5,1869.2 385,1855.5 C390.5,1841.8 395.9,1828 401.4,1814.3 C406.9,1800.5 412.4,1786.7 417.9,1773 C423.4,1759.3 428.9,1747 434.4,1731.9 C439.9,1716.8 445.4,1698.9 450.9,1682.4 C456.4,1665.9 462.8,1646.5 467.4,1633 C472,1619.5 475.4,1611 478.8,1601.5 C482.2,1592 484.9,1584.4 488,1576 C491.1,1567.6 494.6,1557.1 497.4,1551.1 C500.2,1545.1 502.1,1542.8 505,1540 C507.9,1537.2 510.4,1534.5 514.6,1534.5 C518.8,1534.5 525.4,1536.9 530,1540 C534.6,1543.1 538.3,1544.4 542.3,1553 C546.3,1561.6 549.7,1577.5 553.9,1591.6 C558.1,1605.7 564,1627.1 567.6,1637.4 C571.2,1647.7 572.3,1642.9 575.4,1653.3 C578.5,1663.7 582.4,1685.3 586,1700 C589.6,1714.7 589.5,1712.3 597,1741.2 C604.5,1770.1 622.5,1837.9 630.7,1873.2 C638.9,1908.5 640.2,1925.3 646,1953.3 C651.8,1981.3 658.1,2006.8 665.7,2041.2 C673.3,2075.7 685,2127.6 691.5,2160 C698,2192.4 700.6,2215.4 704.9,2235.5 C709.1,2255.6 712.7,2265.7 717,2280.8 C721.3,2295.9 725.8,2311.1 730.6,2326.2 C735.4,2341.3 739.7,2356.4 745.7,2371.5 C751.8,2386.6 757.9,2404.6 766.9,2416.8 C775.9,2429.1 787.8,2438.8 800,2445 C812.2,2451.2 828.3,2453.5 840,2453.8 C851.7,2454.1 862,2449.5 870,2447 C878,2444.5 878.2,2451.4 888,2438.7 C897.8,2426 918.7,2390.8 929,2371 C939.3,2351.2 943.4,2336.1 950,2320 C956.6,2303.9 959.6,2293.7 968.7,2274.7 C977.8,2255.7 994.1,2228.9 1004.4,2206 C1014.7,2183.1 1022.5,2160.3 1030.5,2137.4 C1038.5,2114.5 1043.7,2091.6 1052.3,2068.7 C1060.9,2045.8 1071.1,2029.2 1081.9,2000 C1092.7,1970.8 1105.6,1920.6 1116.9,1893.4 C1128.2,1866.2 1134.5,1858.8 1150,1836.6 C1165.5,1814.4 1193.2,1780.8 1209.9,1760 C1226.6,1739.2 1236.2,1727.5 1250,1712 C1263.8,1696.5 1278.4,1681.7 1292.4,1667 C1306.4,1652.3 1320.1,1637.7 1334.2,1624 C1348.3,1610.3 1365,1595.7 1376.8,1585 C1388.6,1574.3 1396.3,1567.5 1405.2,1560 C1414.1,1552.5 1423.4,1543.8 1430,1540 C1436.6,1536.2 1440,1534.5 1445,1537 C1450,1539.5 1454,1547 1460,1555 C1466,1563 1472.6,1572.9 1481,1585.2 C1489.4,1597.5 1501,1610 1510.5,1628.7 C1520,1647.4 1529.7,1674.5 1538,1697.4 C1546.3,1720.3 1552.7,1740.8 1560.5,1766 C1568.3,1791.2 1578.6,1826.5 1585,1848.5 C1591.4,1870.5 1591.3,1871.1 1598.8,1898.1 C1606.3,1925 1619.7,1972.8 1630,2010.2 C1640.3,2047.6 1652.3,2091.7 1660.5,2122.4 C1668.7,2153.1 1670.2,2158.7 1679,2194.5 C1687.8,2230.3 1702,2290.6 1713.4,2337.3 C1724.9,2384 1736.6,2437.5 1747.7,2474.6 C1758.8,2511.7 1768.4,2530.8 1780,2560 C1791.6,2589.2 1802.9,2624.2 1817.3,2650 C1831.7,2675.8 1851,2699.7 1866.4,2715 C1881.8,2730.3 1894.1,2735 1909.7,2742 C1925.3,2749 1945,2753.3 1960,2757 C1975,2760.7 1976.7,2762.2 2000,2764 C2023.3,2765.8 2049.4,2767.1 2100,2768 C2150.6,2768.9 2269.6,2769.2 2303.5,2769.5" fill="none" stroke="#0000ff" stroke-width="13.8" stroke-linecap="round" stroke-linejoin="round"/>
<path d="M359.5,1867.5 C360.9,1864.9 365.2,1856.9 368,1852 C370.8,1847.1 373,1844.7 376,1838 C379,1831.3 382.7,1820.7 386,1812 C389.3,1803.3 392.5,1795.3 396,1786 C399.5,1776.7 403.5,1765.7 407,1756 C410.5,1746.3 413.5,1737.3 417,1728 C420.5,1718.7 424.8,1710 428,1700 C431.2,1690 432.9,1684.4 436,1668 C439.1,1651.6 441.8,1621 446.8,1601.5 C451.8,1582 459.4,1567.9 465.9,1551.1 C472.4,1534.3 481,1512.6 486,1500.8 C491,1489 493,1485.8 496,1480 C499,1474.2 501.5,1470.2 504,1466 C506.5,1461.8 508.8,1458 511,1455 C513.2,1452 514.8,1448.8 517,1448 C519.2,1447.2 521.5,1447 524,1450 C526.5,1453 528.8,1459.2 532,1466 C535.2,1472.8 539.2,1481.5 543.5,1490.7 C547.8,1499.9 554.1,1512.5 557.5,1520.9 C560.9,1529.3 562.9,1534.9 564,1541.1 C565.1,1547.3 562.2,1548.2 564,1558 C565.8,1567.8 570.2,1584.1 575,1600 C579.8,1615.9 586,1629.8 592.6,1653.3 C599.2,1676.8 605.6,1704.5 614.6,1741.2 C623.6,1777.9 639.5,1837.9 646.8,1873.2 C654.1,1908.5 653.3,1925.3 658.4,1953.3 C663.5,1981.3 670.2,2006.8 677.5,2041.2 C684.8,2075.7 695.7,2127.6 702,2160 C708.3,2192.4 710.7,2215.4 715.5,2235.5 C720.3,2255.6 725.8,2265.7 730.6,2280.8 C735.4,2295.9 739.2,2311.1 744.2,2326.2 C749.2,2341.3 752.8,2356.4 760.8,2371.5 C768.8,2386.6 783.5,2407.2 792.5,2416.8 C801.5,2426.4 807.6,2426.5 815,2429 C822.4,2431.5 828.7,2433.5 837,2432 C845.3,2430.5 857,2425.3 865,2420 C873,2414.7 877.7,2408.2 885,2400 C892.3,2391.8 900.4,2384.3 908.7,2371 C917,2357.7 926.8,2336.1 935,2320 C943.2,2303.9 947.5,2293.7 957.7,2274.7 C967.9,2255.7 985.8,2228.9 996.2,2206 C1006.6,2183.1 1012.2,2160.3 1020.2,2137.4 C1028.2,2114.5 1035.3,2091.6 1044.3,2068.7 C1053.2,2045.8 1061.2,2034.6 1073.9,2000 C1086.6,1965.4 1107.1,1894.5 1120.6,1861.3 C1134.1,1828.1 1140.1,1822.3 1155,1800.8 C1169.9,1779.3 1194.1,1751.2 1209.9,1732.1 C1225.7,1713 1236.2,1700.9 1250,1686 C1263.8,1671.1 1278.4,1657 1292.4,1642.8 C1306.4,1628.6 1320.1,1613.2 1334.2,1600.8 C1348.3,1588.4 1365,1577.4 1376.8,1568.2 C1388.6,1559 1398.1,1550.8 1405.2,1545.4 C1412.3,1540 1411.9,1534.7 1419.4,1536 C1426.9,1537.3 1439.5,1544.8 1450,1553 C1460.5,1561.2 1472.4,1572.6 1482.7,1585.2 C1493,1597.8 1502.4,1610 1511.8,1628.7 C1521.2,1647.4 1530.9,1674.5 1539.3,1697.4 C1547.7,1720.3 1554.1,1740.8 1562,1766 C1569.9,1791.2 1580.2,1826.5 1586.7,1848.5 C1593.2,1870.5 1593.6,1871.1 1601.2,1898.1 C1608.8,1925 1622.2,1972.8 1632.5,2010.2 C1642.8,2047.6 1654.7,2091.3 1662.9,2122.4 C1671.2,2153.5 1673.4,2161.2 1682,2197 C1690.6,2232.8 1703.3,2291 1714.7,2337.3 C1726.1,2383.6 1738.9,2439 1750.4,2474.6 C1761.9,2510.2 1772.1,2525.1 1783.7,2551 C1795.3,2576.9 1805.6,2605.2 1820,2630 C1834.4,2654.8 1853,2682.4 1870,2700 C1887,2717.6 1907,2727.2 1922,2735.5 C1937,2743.8 1948.2,2746.2 1960,2750 C1971.8,2753.8 1981.3,2756.2 1993,2758.5 C2004.7,2760.8 2018.2,2762.5 2030,2764 C2041.8,2765.5 2018.4,2766.6 2064,2767.5 C2109.6,2768.4 2263.6,2769.2 2303.5,2769.5" fill="none" stroke="#00ff00" stroke-width="13.8" stroke-linecap="round" stroke-linejoin="round"/>
<path d="M359.5,1863.4 C360.9,1861.2 365.4,1853.2 368,1850 C370.6,1846.8 372.2,1850 375,1844 C377.8,1838 381.7,1823.1 385,1814 C388.3,1804.9 391.3,1799.2 394.9,1789.6 C398.5,1780 402.8,1766.8 406.4,1756.6 C410,1746.4 413.8,1735.5 416.3,1728.6 C418.8,1721.7 418.2,1725.2 421.2,1715.4 C424.1,1705.6 429.7,1689 434,1670 C438.3,1651 441.5,1621.3 447,1601.5 C452.5,1581.7 460.2,1567.9 466.9,1551.1 C473.6,1534.3 481.5,1512.6 487,1500.8 C492.5,1489 495.8,1485.6 500,1480 C504.2,1474.4 508.3,1470 512,1467 C515.7,1464 518.7,1462.3 522,1462 C525.3,1461.7 527.9,1460.2 531.7,1465 C535.5,1469.8 540.5,1481.4 545,1490.7 C549.5,1500 555.5,1512.5 559,1520.9 C562.5,1529.3 564,1534.8 566,1541 C568,1547.2 568.5,1548.2 571,1558 C573.5,1567.8 576.7,1584.1 581,1600 C585.3,1615.9 590.7,1629.8 597,1653.3 C603.3,1676.8 609.7,1704.5 619,1741.2 C628.3,1777.9 645.4,1837.9 652.7,1873.2 C660,1908.5 657.9,1925.3 662.8,1953.3 C667.7,1981.3 674.6,2006.8 681.9,2041.2 C689.2,2075.7 699.5,2127.6 706.6,2160 C713.7,2192.4 719.1,2215.4 724.6,2235.5 C730.1,2255.6 734.7,2265.7 739.7,2280.8 C744.7,2295.9 748.5,2311.1 754.8,2326.2 C761.1,2341.3 769,2359.5 777.4,2371.5 C785.8,2383.5 795.1,2392.2 805,2398 C814.9,2403.8 827,2406.5 837,2406.2 C847,2405.9 855,2401.9 865,2396 C875,2390.1 887,2383.7 897,2371 C907,2358.3 915.4,2336.1 925,2320 C934.6,2303.9 943.8,2293.7 954.9,2274.7 C966,2255.7 981.3,2228.9 991.4,2206 C1001.5,2183.1 1007.2,2160.3 1015.4,2137.4 C1023.5,2114.5 1031,2091.6 1040.3,2068.7 C1049.5,2045.8 1057.5,2033.9 1070.9,2000 C1084.3,1966.1 1106.6,1897.7 1120.6,1865.4 C1134.6,1833.1 1140.1,1827.4 1155,1806.3 C1169.9,1785.2 1194.1,1757.9 1209.9,1739 C1225.7,1720.1 1236.2,1707.9 1250,1693 C1263.8,1678.1 1278.4,1663.8 1292.4,1649.6 C1306.4,1635.4 1320.1,1620.6 1334.2,1608 C1348.3,1595.4 1365,1583.6 1376.8,1573.9 C1388.6,1564.2 1396.5,1556 1405.2,1549.7 C1414,1543.4 1420.2,1535.6 1429.3,1536 C1438.4,1536.4 1449.2,1543.8 1460,1552 C1470.8,1560.2 1483.8,1572.4 1494.1,1585.2 C1504.4,1598 1512.6,1610 1522.1,1628.7 C1531.6,1647.4 1542.1,1674.5 1551,1697.4 C1559.9,1720.3 1567.2,1740.8 1575.7,1766 C1584.2,1791.2 1595.3,1826.5 1601.8,1848.5 C1608.3,1870.5 1607.2,1871.1 1614.9,1898.1 C1622.6,1925 1637,1972.8 1647.7,2010.2 C1658.4,2047.6 1670.7,2091.3 1679,2122.4 C1687.3,2153.5 1688.3,2161.2 1697.5,2197 C1706.7,2232.8 1721.8,2291 1734,2337.3 C1746.2,2383.6 1758.3,2439 1771,2474.6 C1783.7,2510.2 1798.5,2526.4 1810,2551 C1821.5,2575.6 1828.5,2599.7 1840.2,2622 C1851.9,2644.3 1866.4,2668.2 1880,2685 C1893.6,2701.8 1908.7,2713.8 1922,2723 C1935.3,2732.2 1948.2,2735.8 1960,2740 C1971.8,2744.2 1981.3,2745 1993,2748 C2004.7,2751 2018.2,2755.2 2030,2758 C2041.8,2760.8 2052.3,2763.4 2064,2765 C2075.7,2766.6 2060.1,2766.8 2100,2767.5 C2139.9,2768.2 2269.6,2769.2 2303.5,2769.5" fill="none" stroke="#ff00ff" stroke-width="13.8" stroke-linecap="round" stroke-linejoin="round"/>
<path d="M359.5,1858.5 C360.9,1856.4 364.9,1852.1 368,1846 C371.1,1839.9 374.3,1830.8 378,1822 C381.7,1813.2 386.3,1802.3 390,1793 C393.7,1783.7 396.7,1775.3 400,1766 C403.3,1756.7 406.7,1746 410,1737 C413.3,1728 416.7,1720.2 420,1712 C423.3,1703.8 427,1695.8 430,1688 C433,1680.2 434.9,1679.4 438,1665 C441.1,1650.6 443.2,1620.5 448.3,1601.5 C453.4,1582.5 461.7,1567.9 468.4,1551.1 C475.1,1534.3 483,1513 488.6,1500.8 C494.2,1488.6 497.6,1484.5 502,1478 C506.4,1471.5 511,1466 515,1462 C519,1458 522.7,1455.8 526,1454 C529.3,1452.2 532,1448.3 534.7,1451 C537.4,1453.7 539.8,1463.4 542,1470 C544.2,1476.6 544.7,1484 547.8,1490.7 C550.9,1497.4 556.7,1503.5 560.7,1510 C564.7,1516.5 569.1,1522 572,1530 C574.9,1538 575.3,1546.3 578,1558 C580.7,1569.7 583.4,1584.1 588,1600 C592.6,1615.9 599.2,1629.8 605.8,1653.3 C612.4,1676.8 618.9,1704.5 627.8,1741.2 C636.7,1777.9 652.4,1837.9 659.3,1873.2 C666.2,1908.5 664.4,1925.3 669.4,1953.3 C674.4,1981.3 681.8,2006.8 689.2,2041.2 C696.7,2075.7 706.7,2127.6 714.1,2160 C721.5,2192.4 727.6,2215.4 733.6,2235.5 C739.6,2255.6 744.4,2265.7 750.2,2280.8 C756,2295.9 760.9,2313 768.4,2326.2 C775.9,2339.4 783.8,2351.2 795,2360 C806.2,2368.8 825.6,2376.2 835.6,2379 C845.6,2381.8 848.4,2378.5 855,2377 C861.6,2375.5 866.7,2377.8 875,2370 C883.3,2362.2 893,2345.9 905,2330 C917,2314.1 934,2295.4 946.7,2274.7 C959.4,2254 970.5,2228.9 981,2206 C991.5,2183.1 1000.7,2160.3 1009.9,2137.4 C1019.1,2114.5 1026.3,2091.6 1036,2068.7 C1045.7,2045.8 1053.8,2033.4 1067.9,2000 C1082,1966.6 1106.1,1899.7 1120.6,1868.1 C1135.1,1836.5 1140.1,1830.6 1155,1810.4 C1169.9,1790.2 1194.1,1765.3 1209.9,1747.2 C1225.7,1729.1 1236.2,1716.9 1250,1702 C1263.8,1687.1 1278.4,1672 1292.4,1658 C1306.4,1644 1320.1,1630.6 1334.2,1618 C1348.3,1605.4 1365,1592.6 1376.8,1582.4 C1388.6,1572.2 1397.2,1563.2 1405.2,1556.8 C1413.2,1550.4 1418.4,1547.5 1425,1544 C1431.6,1540.5 1437.5,1535.3 1445,1536 C1452.5,1536.7 1459.9,1539.8 1470,1548 C1480.1,1556.2 1495.1,1571.8 1505.5,1585.2 C1515.9,1598.7 1522.9,1610 1532.4,1628.7 C1541.9,1647.4 1553.4,1674.5 1562.6,1697.4 C1571.8,1720.3 1578.6,1740.8 1587.4,1766 C1596.2,1791.2 1608.7,1826.5 1615.5,1848.5 C1622.3,1870.5 1621,1871.1 1628.5,1898.1 C1636,1925 1649.8,1972.8 1660.5,2010.2 C1671.2,2047.6 1683.9,2091.3 1692.6,2122.4 C1701.3,2153.5 1702.6,2161.2 1712.5,2197 C1722.4,2232.8 1739.1,2291 1751.8,2337.3 C1764.5,2383.6 1776,2439 1788.9,2474.6 C1801.9,2510.2 1817.1,2526.4 1829.5,2551 C1841.9,2575.6 1847.9,2596.3 1863.3,2622 C1878.7,2647.7 1905.9,2687.8 1922,2705.3 C1938.1,2722.8 1948.2,2721.4 1960,2727 C1971.8,2732.6 1981.3,2734.8 1993,2739 C2004.7,2743.2 2018.2,2748.3 2030,2752 C2041.8,2755.7 2052.3,2758.8 2064,2761 C2075.7,2763.2 2077.3,2763.8 2100,2765 C2122.7,2766.2 2166.1,2767.8 2200,2768.5 C2233.9,2769.2 2286.2,2769.3 2303.5,2769.5" fill="none" stroke="#00ffff" stroke-width="13.8" stroke-linecap="round" stroke-linejoin="round"/>
<path d="M359.5,1855 C360.4,1853.2 362.3,1850 365.2,1844 C368.1,1838 372.8,1828.3 376.7,1819.2 C380.6,1810.1 385,1798.6 388.3,1789.5 C391.6,1780.4 393.8,1774.4 396.5,1764.8 C399.2,1755.2 401.7,1741.5 404.7,1731.9 C407.7,1722.3 411.3,1715.3 414.6,1707.1 C417.9,1698.8 421.2,1692 424.5,1682.4 C427.8,1672.8 431.1,1660.4 434.4,1649.4 C437.7,1638.4 441.7,1624.5 444.3,1616.5 C446.9,1608.5 445.5,1612.4 449.8,1601.5 C454.1,1590.6 463,1567.9 469.9,1551.1 C476.8,1534.3 485.2,1514 491.1,1500.8 C497,1487.6 500.5,1480.5 505,1472 C509.5,1463.5 514.2,1455.5 518,1450 C521.8,1444.5 524.9,1441.5 528,1439 C531.1,1436.5 533.5,1431.4 536.7,1435 C539.9,1438.6 543.8,1453.3 547.3,1460.5 C550.8,1467.7 554.2,1472.3 558,1478 C561.8,1483.7 566.5,1486.4 570.2,1494.7 C573.9,1503 577.4,1518 580,1528 C582.6,1538 583.3,1543 586,1555 C588.7,1567 591.4,1583.6 596,1600 C600.6,1616.4 607.1,1629.8 613.9,1653.3 C620.7,1676.8 628,1704.5 636.6,1741.2 C645.2,1777.9 658.5,1837.9 665.2,1873.2 C671.9,1908.5 671.4,1925.3 676.7,1953.3 C682.1,1981.3 689.7,2006.8 697.3,2041.2 C704.9,2075.7 714.6,2127.6 722.4,2160 C730.2,2192.4 737.3,2215.4 744.2,2235.5 C751.1,2255.6 757,2267.6 763.8,2280.8 C770.6,2294.1 777,2305.1 785,2315 C793,2324.9 802.3,2334.2 812,2340 C821.7,2345.8 835,2349.1 843,2349.6 C851,2350.1 854.4,2346.3 860,2343 C865.6,2339.7 869.7,2336.8 876.4,2330 C883.1,2323.2 889.9,2311.2 900,2302 C910.1,2292.8 925,2290.7 937.1,2274.7 C949.2,2258.7 962,2228.9 972.8,2206 C983.5,2183.1 992,2160.3 1001.6,2137.4 C1011.2,2114.5 1020.4,2091.6 1030.5,2068.7 C1040.6,2045.8 1047.1,2032.8 1062.1,2000 C1077.1,1967.2 1105.1,1902.5 1120.6,1872 C1136.1,1841.5 1140.1,1837 1155,1817.3 C1169.9,1797.6 1194.1,1772 1209.9,1754.1 C1225.7,1736.2 1236.2,1724 1250,1710 C1263.8,1696 1278.4,1683.6 1292.4,1670.2 C1306.4,1656.8 1320.1,1642.6 1334.2,1629.4 C1348.3,1616.2 1365,1601.2 1376.8,1591 C1388.6,1580.8 1396.3,1575.4 1405.2,1568.2 C1414.1,1561 1421.2,1553.4 1430,1548 C1438.8,1542.6 1449.4,1536.7 1457.7,1536 C1466,1535.3 1473,1540 1480,1544 C1487,1548 1492.9,1553.1 1500,1560 C1507.1,1566.9 1515.4,1573.8 1522.5,1585.2 C1529.6,1596.7 1534.1,1610 1542.7,1628.7 C1551.3,1647.4 1564.9,1674.5 1574.3,1697.4 C1583.7,1720.3 1590.1,1740.8 1599,1766 C1607.9,1791.2 1620.9,1826.5 1627.9,1848.5 C1635,1870.5 1633.7,1871.1 1641.3,1898.1 C1648.9,1925 1662.6,1972.8 1673.3,2010.2 C1684,2047.6 1696.5,2091.3 1705.4,2122.4 C1714.4,2153.5 1716.7,2161.2 1727,2197 C1737.3,2232.8 1753.9,2291 1767,2337.3 C1780.1,2383.6 1792.6,2439 1805.4,2474.6 C1818.2,2510.2 1831.4,2526.4 1843.7,2551 C1856,2575.6 1866.2,2598.7 1879.2,2622 C1892.2,2645.3 1908.5,2675.3 1922,2691 C1935.5,2706.7 1948.2,2709.5 1960,2716 C1971.8,2722.5 1981.3,2725.2 1993,2730 C2004.7,2734.8 2018.2,2740.7 2030,2745 C2041.8,2749.3 2052.3,2753.2 2064,2756 C2075.7,2758.8 2077.3,2760.1 2100,2762 C2122.7,2763.9 2166.1,2766.2 2200,2767.5 C2233.9,2768.8 2286.2,2769.2 2303.5,2769.5" fill="none" stroke="#808000" stroke-width="13.8" stroke-linecap="round" stroke-linejoin="round"/>
<path d="M359.5,1836 C361,1833.2 365.1,1826.4 368.5,1819.2 C371.9,1812 377.5,1801.7 380,1792.8 C382.5,1783.9 380.6,1772.9 383.3,1766 C386.1,1759.1 392.6,1757.3 396.5,1751.6 C400.4,1745.9 403.6,1739.3 406.4,1731.9 C409.1,1724.5 411.4,1715 413,1707 C414.6,1699 413.8,1686.5 416.3,1684 C418.8,1681.5 424.8,1695.3 427.8,1692.3 C430.8,1689.3 431.6,1673.2 434.4,1666 C437.1,1658.8 441,1656.3 444.3,1649.4 C447.6,1642.5 451.9,1632.7 454.2,1624.7 C456.5,1616.7 456,1609.6 458.1,1601.5 C460.2,1593.4 464.1,1584.4 467,1576 C469.9,1567.6 472.8,1559.4 475.8,1551.1 C478.8,1542.8 482,1534.4 485,1526 C488,1517.6 491.1,1508.5 493.9,1500.8 C496.7,1493.1 499.1,1486.7 502,1480 C504.9,1473.3 508.5,1466.3 511.5,1460.5 C514.5,1454.7 517.1,1450 520,1445 C522.9,1440 526.2,1435.7 528.7,1430.2 C531.2,1424.7 531.7,1413.5 534.7,1412 C537.7,1410.5 542.6,1416.8 546.5,1421.3 C550.4,1425.8 554.8,1432.7 558.3,1439 C561.8,1445.3 564.6,1451.9 567.8,1459.2 C571,1466.5 574.3,1474.9 577.3,1482.8 C580.3,1490.7 583.1,1498.6 585.6,1506.5 C588.1,1514.4 590.8,1521.3 592.5,1530.2 C594.2,1539.1 594.1,1548.4 596,1560 C597.9,1571.6 599.1,1584.5 604,1600 C608.9,1615.5 618.4,1629.8 625.3,1653.3 C632.1,1676.8 637.3,1704.5 645.1,1741.2 C652.9,1777.9 665.5,1837.9 672.2,1873.2 C678.9,1908.5 680,1925.3 685.5,1953.3 C691,1981.3 697.7,2006.8 705.3,2041.2 C712.9,2075.7 722.2,2127.6 731,2160 C739.8,2192.4 749.4,2215.4 757.8,2235.5 C766.2,2255.6 773.3,2269.2 781.2,2280.8 C789.1,2292.4 795.7,2299.1 805,2305 C814.3,2310.9 828.5,2314.8 837,2316 C845.5,2317.2 849.7,2315 856,2312 C862.3,2309 864.7,2304.2 874.9,2298 C885.1,2291.8 903,2290 917.2,2274.7 C931.5,2259.4 948.1,2228.9 960.4,2206 C972.6,2183.1 980.4,2160.3 990.7,2137.4 C1001,2114.5 1011.4,2091.6 1022.3,2068.7 C1033.2,2045.8 1041.9,2029.2 1055.9,2000 C1069.9,1970.8 1095.5,1914.7 1106.3,1893.4 C1117.1,1872.1 1112.5,1884.2 1120.6,1872.2 C1128.7,1860.2 1140.1,1839.8 1155,1821.4 C1169.9,1803 1194.1,1778.4 1209.9,1761.8 C1225.7,1745.2 1236.2,1735 1250,1722 C1263.8,1709 1278.4,1697.1 1292.4,1684 C1306.4,1670.9 1320.1,1657 1334.2,1643.4 C1348.3,1629.8 1365,1612.4 1376.8,1602.3 C1388.6,1592.2 1395.7,1591 1405.2,1583 C1414.7,1575 1426.1,1561 1433.6,1554 C1441.1,1547 1444.3,1544 1450,1541 C1455.7,1538 1462.6,1535.7 1467.7,1536 C1472.8,1536.3 1475.1,1541.1 1480.5,1543 C1485.9,1544.9 1493.9,1543.8 1500.3,1547.5 C1506.7,1551.2 1513.2,1558.7 1518.8,1565 C1524.4,1571.3 1527.9,1574.6 1533.9,1585.2 C1540,1595.8 1546.3,1610 1555.1,1628.7 C1563.9,1647.4 1577.1,1674.5 1586.7,1697.4 C1596.3,1720.3 1603.8,1740.8 1612.8,1766 C1621.8,1791.2 1633.8,1826.5 1640.9,1848.5 C1648.1,1870.5 1647.9,1871.1 1655.7,1898.1 C1663.5,1925 1677.2,1972.8 1687.8,2010.2 C1698.3,2047.6 1710.6,2091.3 1719,2122.4 C1727.4,2153.5 1728,2161.2 1738,2197 C1748,2232.8 1766,2291 1779.3,2337.3 C1792.6,2383.6 1804.6,2439 1817.7,2474.6 C1830.8,2510.2 1845.6,2526.4 1858.1,2551 C1870.6,2575.6 1882,2601.7 1892.7,2622 C1903.4,2642.3 1910.8,2659.2 1922,2673 C1933.2,2686.8 1948.2,2696.8 1960,2705 C1971.8,2713.2 1981.3,2716.5 1993,2722 C2004.7,2727.5 2018.2,2733.7 2030,2738 C2041.8,2742.3 2052.3,2744.8 2064,2748 C2075.7,2751.2 2085.7,2754.5 2100,2757 C2114.3,2759.5 2133.3,2761.3 2150,2763 C2166.7,2764.7 2174.4,2765.9 2200,2767 C2225.6,2768.1 2286.2,2769.1 2303.5,2769.5" fill="none" stroke="#c0c0c0" stroke-width="13.8" stroke-linecap="round" stroke-linejoin="round"/>
<g stroke="#000" stroke-width="13.5" stroke-linecap="round" stroke-linejoin="round" fill="none">
<path d="M864.5,2496.5 V2197"/>
<path d="M847,2245 L864.5,2197 L882,2245"/>
<path d="M1570,2136.2 H1843.5"/>
<path d="M1792.5,2115 L1843.5,2136.2 L1792.5,2157.5"/>
</g>
<text class="tl" x="212.1 263.1" y="86.6">20</text>
<text class="tl" x="214 263.1" y="766.4">10</text>
<text class="tl" x="263.9" y="1446.1">0</text>
<text class="tl" x="189.2 239.1 264.1" y="1569.6">1.0</text>
<text class="tl" x="188.7 239.1 264.4" y="2187.4">0.5</text>
<text class="tl" x="188.7 239.1 264.1" y="2805.1">0.0</text>
<text class="tl" x="282.1 334.3 383.8" y="2904.5">250</text>
<text class="tl" x="768.1 820.3 869.8" y="2904.5">300</text>
<text class="tl" x="1254.1 1306.3 1355.8" y="2904.5">350</text>
<text class="tl" x="1741 1792.3 1841.8" y="2904.5">400</text>
<text class="tl" x="2227 2278.3 2327.8" y="2904.5">450</text>
<text class="ax" x="1325" y="3058" text-anchor="middle" textLength="732" lengthAdjust="spacing">Wavelength / nm</text>
<text class="ax" transform="translate(112.6,761) rotate(-90)" x="0" y="0" text-anchor="middle" textLength="787" lengthAdjust="spacing">Relative Intensity</text>
<text class="ax" transform="translate(87.4,2113) rotate(-90)" x="0" y="0" text-anchor="middle" textLength="908" lengthAdjust="spacing">Normalized Intensity</text>
<text class="lg" transform="scale(0.94,1)" style="font-size:87px;" x="1890.9 1916.4 1974.4 2036.7 2096.3 2122.1" y="175.7">[DAPI]</text>
<text class="lg" transform="scale(0.94,1)" style="font-size:87px;" x="2174.4" y="175.7">/</text>
<text class="mu" transform="scale(0.97,1)" style="font-size:92px;" x="2160.5" y="176.5">μ</text>
<text class="lg" transform="scale(0.94,1)" style="font-size:87px;" x="2282.2" y="175.7">M</text>
<path d="M1805.9,254.8 H2015.7" stroke="#000000" stroke-width="13.8" stroke-linecap="round" fill="none"/>
<text class="lg" transform="scale(0.91,1)" style="font-size:87.5px;" x="2276.6 2324.7 2352.5 2400.2" y="287.6">0.18</text>
<path d="M1805.9,354.6 H2015.7" stroke="#ff0000" stroke-width="13.8" stroke-linecap="round" fill="none"/>
<text class="lg" transform="scale(0.91,1)" style="font-size:87.5px;" x="2276.6 2324.7 2355.2 2399.2" y="387.4">0.87</text>
<path d="M1805.9,454.5 H2015.7" stroke="#0000ff" stroke-width="13.8" stroke-linecap="round" fill="none"/>
<text class="lg" transform="scale(0.91,1)" style="font-size:87.5px;" x="2277.1 2324.7 2354.3 2399.9" y="487.3">1.72</text>
<path d="M1805.9,554.3 H2015.7" stroke="#00ff00" stroke-width="13.8" stroke-linecap="round" fill="none"/>
<text class="lg" transform="scale(0.91,1)" style="font-size:87.5px;" x="2278.1 2324.7 2356.7 2401" y="587.1">3.43</text>
<path d="M1805.9,654.2 H1877 M1908,654.2 h0.01 M1939,654.2 h0.01 M1970,654.2 H2015.7" stroke="#ff00ff" stroke-width="13.8" stroke-linecap="round" fill="none"/>
<text class="lg" transform="scale(0.91,1)" style="font-size:87.5px;" x="2276.4 2324.7 2352.5 2399.2" y="687">7.17</text>
<path d="M1805.9,754 H1877 M1908,754 h0.01 M1939,754 h0.01 M1970,754 H2015.7" stroke="#00ffff" stroke-width="13.8" stroke-linecap="round" fill="none"/>
<text class="lg" transform="scale(0.91,1)" style="font-size:87.5px;" x="2277.1 2324 2371.9 2399.5" y="786.8">10.6</text>
<path d="M1805.9,853.9 H1877 M1908,853.9 h0.01 M1939,853.9 h0.01 M1970,853.9 H2015.7" stroke="#808000" stroke-width="13.8" stroke-linecap="round" fill="none"/>
<text class="lg" transform="scale(0.91,1)" style="font-size:87.5px;" x="2277.1 2325.5 2371.9 2399.7" y="886.7">13.9</text>
<path d="M1805.9,953.8 H1877 M1908,953.8 h0.01 M1939,953.8 h0.01 M1970,953.8 H2015.7" stroke="#c0c0c0" stroke-width="13.8" stroke-linecap="round" fill="none"/>
<text class="lg" transform="scale(0.91,1)" style="font-size:87.5px;" x="2277.1 2323.7 2371.9 2399.7" y="986.5">17.2</text>
</svg></body></html>
